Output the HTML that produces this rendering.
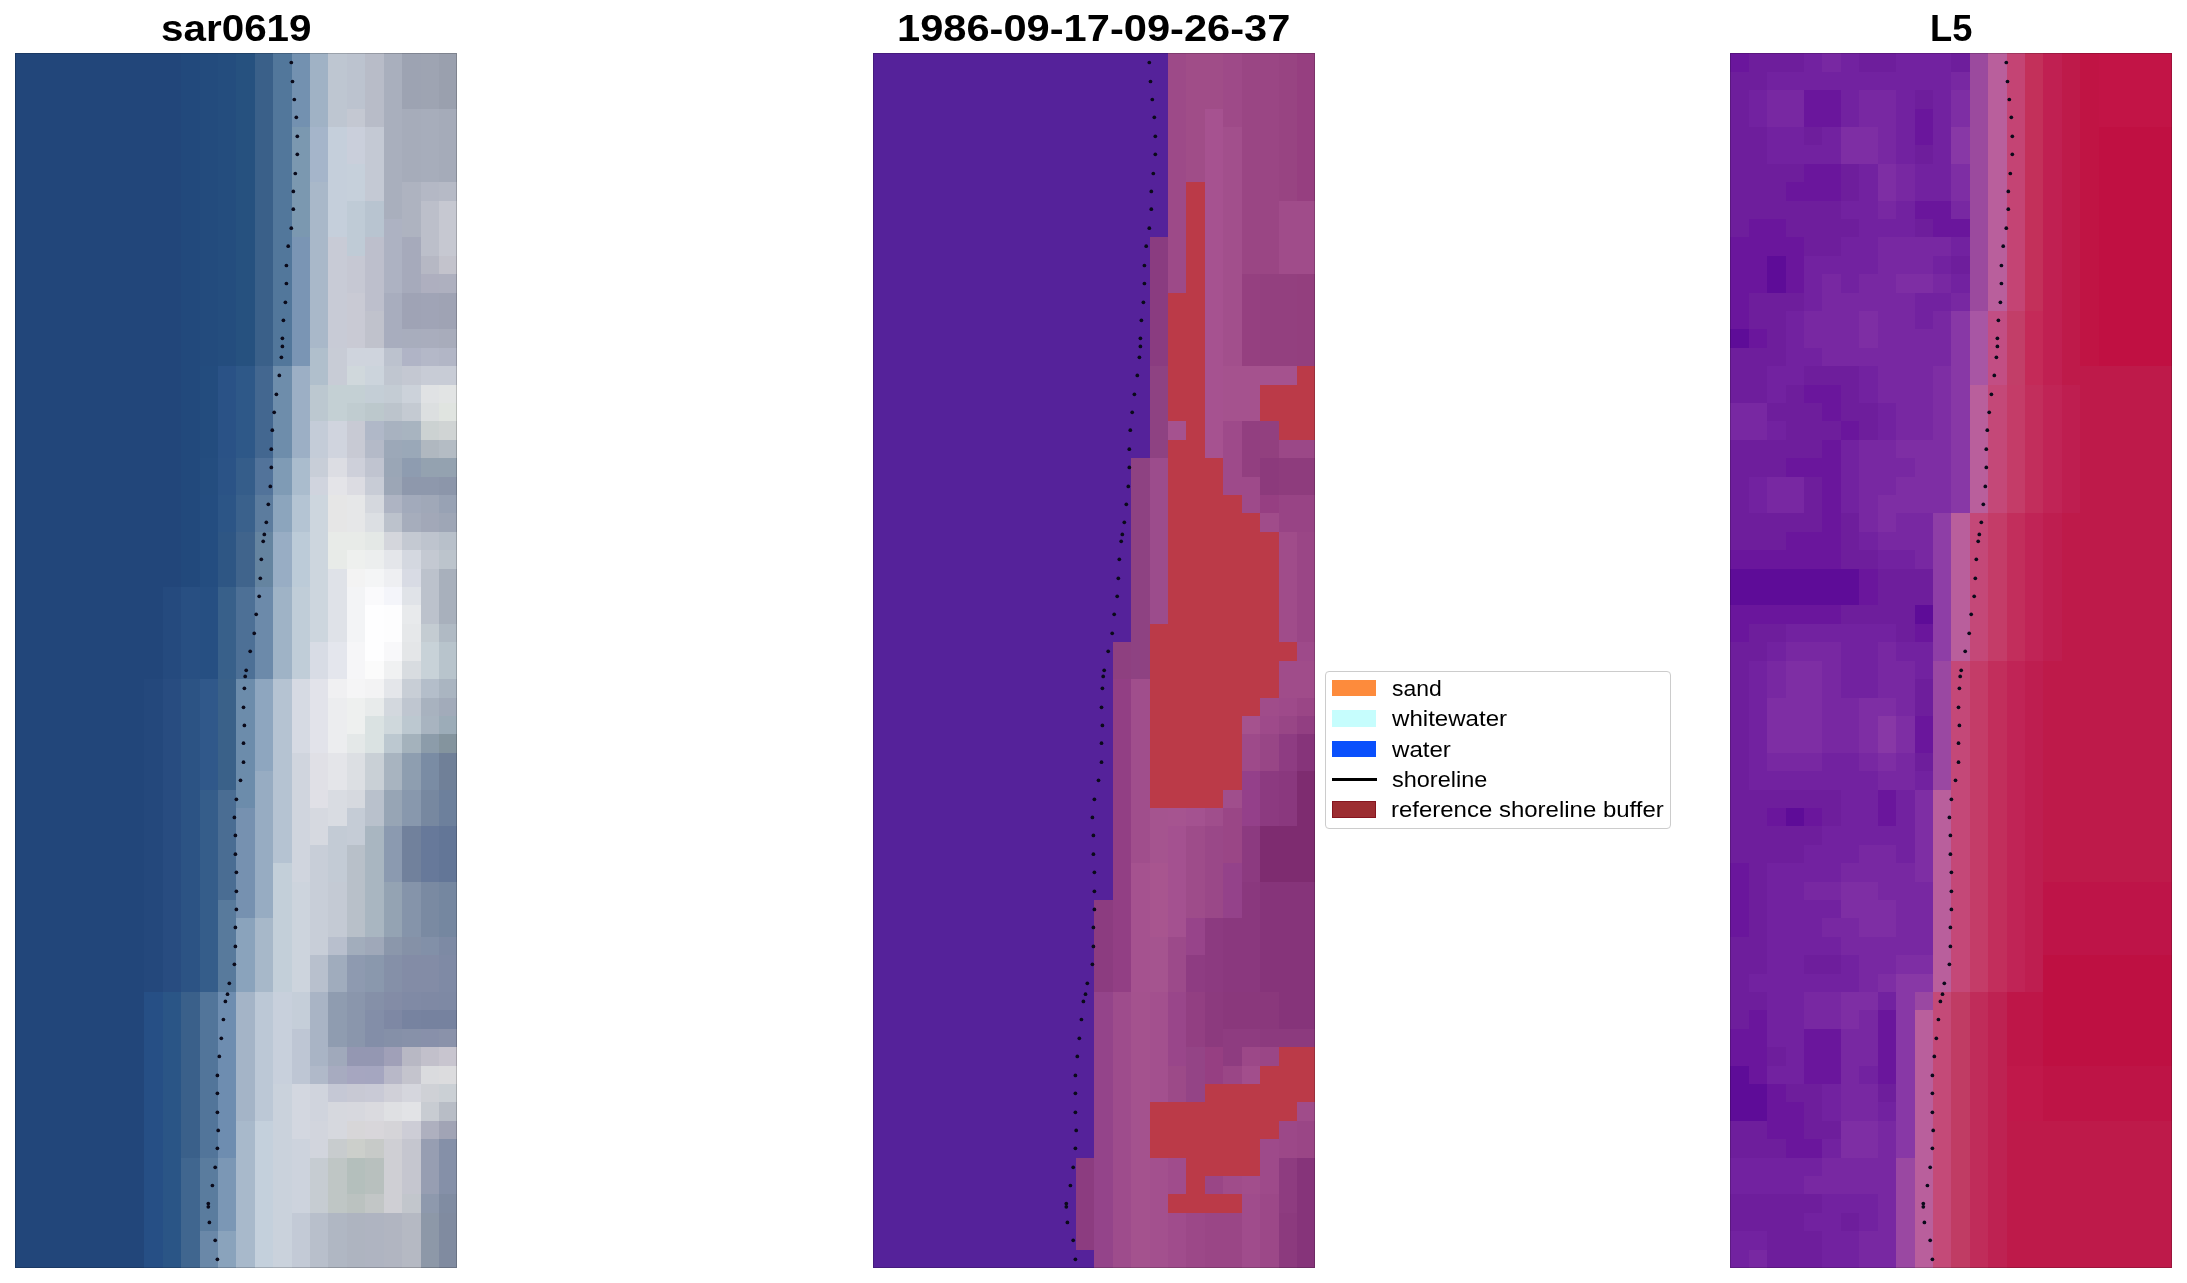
<!DOCTYPE html><html><head><meta charset="utf-8"><style>
html,body{margin:0;padding:0;background:#fff;width:2187px;height:1283px;overflow:hidden}
.t{position:absolute;font-family:"Liberation Sans",sans-serif;font-weight:bold;color:#000;white-space:nowrap;line-height:1}
.p{position:absolute;top:53px;width:442px;height:1214.6px}
.lg{position:absolute;font-family:"Liberation Sans",sans-serif;color:#000;white-space:nowrap;line-height:1}
</style></head><body>
<div style="position:absolute;left:15px;top:53px;width:442px;height:1214.6px;overflow:hidden"><svg style="position:absolute;left:-18.417px;top:-18.403px;width:478.833px;height:1251.406px;filter:blur(0.75px)" viewBox="-1 -1 26 68" preserveAspectRatio="none" shape-rendering="crispEdges"><rect x="-1" y="-1" width="26" height="68" fill="#22467a"/><rect x="9" y="-1" width="1" height="1" fill="#22497c"/><rect x="10" y="-1" width="1" height="1" fill="#234b7d"/><rect x="11" y="-1" width="1" height="1" fill="#244d7e"/><rect x="12" y="-1" width="1" height="1" fill="#26517f"/><rect x="13" y="-1" width="1" height="1" fill="#3a6089"/><rect x="14" y="-1" width="1" height="1" fill="#52779b"/><rect x="15" y="-1" width="1" height="1" fill="#7391b0"/><rect x="16" y="-1" width="1" height="1" fill="#a0b2c5"/><rect x="17" y="-1" width="1" height="1" fill="#bec6d1"/><rect x="18" y="-1" width="1" height="1" fill="#bcc3cf"/><rect x="19" y="-1" width="1" height="1" fill="#b8bcc8"/><rect x="20" y="-1" width="1" height="1" fill="#a9afbd"/><rect x="21" y="-1" width="1" height="1" fill="#9da3b2"/><rect x="22" y="-1" width="1" height="1" fill="#9ea4b2"/><rect x="23" y="-1" width="2" height="1" fill="#9aa0ae"/><rect x="9" y="0" width="1" height="1" fill="#22497c"/><rect x="10" y="0" width="1" height="1" fill="#234b7d"/><rect x="11" y="0" width="1" height="1" fill="#244d7e"/><rect x="12" y="0" width="1" height="1" fill="#26517f"/><rect x="13" y="0" width="1" height="1" fill="#3a6089"/><rect x="14" y="0" width="1" height="1" fill="#52779b"/><rect x="15" y="0" width="1" height="1" fill="#7391b0"/><rect x="16" y="0" width="1" height="1" fill="#a0b2c5"/><rect x="17" y="0" width="1" height="1" fill="#bec6d1"/><rect x="18" y="0" width="1" height="1" fill="#bcc3cf"/><rect x="19" y="0" width="1" height="1" fill="#b8bcc8"/><rect x="20" y="0" width="1" height="1" fill="#a9afbd"/><rect x="21" y="0" width="1" height="1" fill="#9da3b2"/><rect x="22" y="0" width="1" height="1" fill="#9ea4b2"/><rect x="23" y="0" width="2" height="1" fill="#9aa0ae"/><rect x="9" y="1" width="1" height="1" fill="#22497c"/><rect x="10" y="1" width="1" height="1" fill="#234b7d"/><rect x="11" y="1" width="1" height="1" fill="#244d7e"/><rect x="12" y="1" width="1" height="1" fill="#26517f"/><rect x="13" y="1" width="1" height="1" fill="#3a6089"/><rect x="14" y="1" width="1" height="1" fill="#52779b"/><rect x="15" y="1" width="1" height="1" fill="#7391b0"/><rect x="16" y="1" width="1" height="1" fill="#a0b2c5"/><rect x="17" y="1" width="1" height="1" fill="#bec6d1"/><rect x="18" y="1" width="1" height="1" fill="#bcc3cf"/><rect x="19" y="1" width="1" height="1" fill="#b8bcc8"/><rect x="20" y="1" width="1" height="1" fill="#a9afbd"/><rect x="21" y="1" width="1" height="1" fill="#9da3b2"/><rect x="22" y="1" width="1" height="1" fill="#9ea4b2"/><rect x="23" y="1" width="2" height="1" fill="#9aa0ae"/><rect x="9" y="2" width="1" height="1" fill="#22497c"/><rect x="10" y="2" width="1" height="1" fill="#234b7d"/><rect x="11" y="2" width="1" height="1" fill="#244d7e"/><rect x="12" y="2" width="1" height="1" fill="#26517f"/><rect x="13" y="2" width="1" height="1" fill="#3a6089"/><rect x="14" y="2" width="1" height="1" fill="#52779b"/><rect x="15" y="2" width="1" height="1" fill="#7391b0"/><rect x="16" y="2" width="1" height="1" fill="#a0b2c5"/><rect x="17" y="2" width="1" height="1" fill="#bec6d1"/><rect x="18" y="2" width="1" height="1" fill="#bcc3cf"/><rect x="19" y="2" width="1" height="1" fill="#b8bcc8"/><rect x="20" y="2" width="1" height="1" fill="#a9afbd"/><rect x="21" y="2" width="1" height="1" fill="#9da3b2"/><rect x="22" y="2" width="1" height="1" fill="#9ea4b2"/><rect x="23" y="2" width="2" height="1" fill="#9aa0ae"/><rect x="9" y="3" width="1" height="1" fill="#22497c"/><rect x="10" y="3" width="1" height="1" fill="#234b7d"/><rect x="11" y="3" width="1" height="1" fill="#244d7e"/><rect x="12" y="3" width="1" height="1" fill="#26517f"/><rect x="13" y="3" width="1" height="1" fill="#3a6089"/><rect x="14" y="3" width="1" height="1" fill="#52779b"/><rect x="15" y="3" width="1" height="1" fill="#7391b0"/><rect x="16" y="3" width="1" height="1" fill="#a0b2c5"/><rect x="17" y="3" width="1" height="1" fill="#bec6d1"/><rect x="18" y="3" width="1" height="1" fill="#c4c8d2"/><rect x="19" y="3" width="1" height="1" fill="#b8bcc8"/><rect x="20" y="3" width="1" height="1" fill="#a9afbd"/><rect x="21" y="3" width="1" height="1" fill="#a6acba"/><rect x="22" y="3" width="1" height="1" fill="#a7adbb"/><rect x="23" y="3" width="2" height="1" fill="#a5abb9"/><rect x="9" y="4" width="1" height="1" fill="#22497c"/><rect x="10" y="4" width="1" height="1" fill="#234b7d"/><rect x="11" y="4" width="1" height="1" fill="#244d7e"/><rect x="12" y="4" width="1" height="1" fill="#26517f"/><rect x="13" y="4" width="1" height="1" fill="#3a6089"/><rect x="14" y="4" width="1" height="1" fill="#52779b"/><rect x="15" y="4" width="1" height="1" fill="#7b98b0"/><rect x="16" y="4" width="1" height="1" fill="#a5b5ca"/><rect x="17" y="4" width="1" height="1" fill="#c5cfdb"/><rect x="18" y="4" width="1" height="1" fill="#cacfdb"/><rect x="19" y="4" width="1" height="1" fill="#c4c9d4"/><rect x="20" y="4" width="1" height="1" fill="#a9afbd"/><rect x="21" y="4" width="1" height="1" fill="#a6acba"/><rect x="22" y="4" width="1" height="1" fill="#a7adbb"/><rect x="23" y="4" width="2" height="1" fill="#a5abb9"/><rect x="9" y="5" width="1" height="1" fill="#22497c"/><rect x="10" y="5" width="1" height="1" fill="#234b7d"/><rect x="11" y="5" width="1" height="1" fill="#244d7e"/><rect x="12" y="5" width="1" height="1" fill="#26517f"/><rect x="13" y="5" width="1" height="1" fill="#3a6089"/><rect x="14" y="5" width="1" height="1" fill="#52779b"/><rect x="15" y="5" width="1" height="1" fill="#7b98b0"/><rect x="16" y="5" width="1" height="1" fill="#a5b5ca"/><rect x="17" y="5" width="1" height="1" fill="#c5cfdb"/><rect x="18" y="5" width="1" height="1" fill="#cacfdb"/><rect x="19" y="5" width="1" height="1" fill="#c4c9d4"/><rect x="20" y="5" width="1" height="1" fill="#a9afbd"/><rect x="21" y="5" width="1" height="1" fill="#a6acba"/><rect x="22" y="5" width="1" height="1" fill="#a7adbb"/><rect x="23" y="5" width="2" height="1" fill="#a5abb9"/><rect x="9" y="6" width="1" height="1" fill="#22497c"/><rect x="10" y="6" width="1" height="1" fill="#234b7d"/><rect x="11" y="6" width="1" height="1" fill="#244d7e"/><rect x="12" y="6" width="1" height="1" fill="#26517f"/><rect x="13" y="6" width="1" height="1" fill="#3a6089"/><rect x="14" y="6" width="1" height="1" fill="#52779b"/><rect x="15" y="6" width="1" height="1" fill="#7b98b0"/><rect x="16" y="6" width="1" height="1" fill="#a5b5ca"/><rect x="17" y="6" width="1" height="1" fill="#c5cfdb"/><rect x="18" y="6" width="1" height="1" fill="#c6d0db"/><rect x="19" y="6" width="1" height="1" fill="#c4c9d4"/><rect x="20" y="6" width="1" height="1" fill="#a9afbd"/><rect x="21" y="6" width="1" height="1" fill="#a6acba"/><rect x="22" y="6" width="1" height="1" fill="#a7adbb"/><rect x="23" y="6" width="2" height="1" fill="#a5abb9"/><rect x="9" y="7" width="1" height="1" fill="#22497c"/><rect x="10" y="7" width="1" height="1" fill="#234b7d"/><rect x="11" y="7" width="1" height="1" fill="#244d7e"/><rect x="12" y="7" width="1" height="1" fill="#26517f"/><rect x="13" y="7" width="1" height="1" fill="#3a6089"/><rect x="14" y="7" width="1" height="1" fill="#52779b"/><rect x="15" y="7" width="1" height="1" fill="#7b98b0"/><rect x="16" y="7" width="1" height="1" fill="#a9b8c9"/><rect x="17" y="7" width="1" height="1" fill="#c5cfdb"/><rect x="18" y="7" width="1" height="1" fill="#c6d0db"/><rect x="19" y="7" width="1" height="1" fill="#c4c9d4"/><rect x="20" y="7" width="1" height="1" fill="#a9afbd"/><rect x="21" y="7" width="1" height="1" fill="#aeb3c0"/><rect x="22" y="7" width="1" height="1" fill="#b4b8c5"/><rect x="23" y="7" width="2" height="1" fill="#b6bac6"/><rect x="9" y="8" width="1" height="1" fill="#22497c"/><rect x="10" y="8" width="1" height="1" fill="#234b7d"/><rect x="11" y="8" width="1" height="1" fill="#244d7e"/><rect x="12" y="8" width="1" height="1" fill="#26517f"/><rect x="13" y="8" width="1" height="1" fill="#3a6089"/><rect x="14" y="8" width="1" height="1" fill="#52779b"/><rect x="15" y="8" width="1" height="1" fill="#7b98b0"/><rect x="16" y="8" width="1" height="1" fill="#a9b8c9"/><rect x="17" y="8" width="1" height="1" fill="#c5cfdb"/><rect x="18" y="8" width="1" height="1" fill="#bfcbd6"/><rect x="19" y="8" width="1" height="1" fill="#b8c4d0"/><rect x="20" y="8" width="1" height="1" fill="#a9afbd"/><rect x="21" y="8" width="1" height="1" fill="#aeb3c0"/><rect x="22" y="8" width="1" height="1" fill="#bcbfca"/><rect x="23" y="8" width="2" height="1" fill="#c6c8d1"/><rect x="9" y="9" width="1" height="1" fill="#22497c"/><rect x="10" y="9" width="1" height="1" fill="#234b7d"/><rect x="11" y="9" width="1" height="1" fill="#244d7e"/><rect x="12" y="9" width="1" height="1" fill="#26517f"/><rect x="13" y="9" width="1" height="1" fill="#3a6089"/><rect x="14" y="9" width="1" height="1" fill="#52779b"/><rect x="15" y="9" width="1" height="1" fill="#7b98b0"/><rect x="16" y="9" width="1" height="1" fill="#a9b8c9"/><rect x="17" y="9" width="1" height="1" fill="#c5cfdb"/><rect x="18" y="9" width="1" height="1" fill="#bfcbd6"/><rect x="19" y="9" width="1" height="1" fill="#b8c4d0"/><rect x="20" y="9" width="1" height="1" fill="#adb2c2"/><rect x="21" y="9" width="1" height="1" fill="#aeb3c0"/><rect x="22" y="9" width="1" height="1" fill="#bcbfca"/><rect x="23" y="9" width="2" height="1" fill="#c6c8d1"/><rect x="9" y="10" width="1" height="1" fill="#22497c"/><rect x="10" y="10" width="1" height="1" fill="#234b7d"/><rect x="11" y="10" width="1" height="1" fill="#244d7e"/><rect x="12" y="10" width="1" height="1" fill="#26517f"/><rect x="13" y="10" width="1" height="1" fill="#3a6089"/><rect x="14" y="10" width="1" height="1" fill="#52779b"/><rect x="15" y="10" width="1" height="1" fill="#7a95b4"/><rect x="16" y="10" width="1" height="1" fill="#a9b8c9"/><rect x="17" y="10" width="1" height="1" fill="#c8cbd6"/><rect x="18" y="10" width="1" height="1" fill="#bfcbd6"/><rect x="19" y="10" width="1" height="1" fill="#bdbfcc"/><rect x="20" y="10" width="1" height="1" fill="#adb2c2"/><rect x="21" y="10" width="1" height="1" fill="#a6aabb"/><rect x="22" y="10" width="1" height="1" fill="#bcbfca"/><rect x="23" y="10" width="2" height="1" fill="#c6c8d1"/><rect x="9" y="11" width="1" height="1" fill="#22497c"/><rect x="10" y="11" width="1" height="1" fill="#234b7d"/><rect x="11" y="11" width="1" height="1" fill="#244d7e"/><rect x="12" y="11" width="1" height="1" fill="#26517f"/><rect x="13" y="11" width="1" height="1" fill="#3a6089"/><rect x="14" y="11" width="1" height="1" fill="#52779b"/><rect x="15" y="11" width="1" height="1" fill="#7a95b4"/><rect x="16" y="11" width="1" height="1" fill="#a9b8c9"/><rect x="17" y="11" width="1" height="1" fill="#c8cbd6"/><rect x="18" y="11" width="1" height="1" fill="#c6c8d3"/><rect x="19" y="11" width="1" height="1" fill="#bdbfcc"/><rect x="20" y="11" width="1" height="1" fill="#adb2c2"/><rect x="21" y="11" width="1" height="1" fill="#a6aabb"/><rect x="22" y="11" width="1" height="1" fill="#b6b8c4"/><rect x="23" y="11" width="2" height="1" fill="#c3c3cc"/><rect x="9" y="12" width="1" height="1" fill="#22497c"/><rect x="10" y="12" width="1" height="1" fill="#234b7d"/><rect x="11" y="12" width="1" height="1" fill="#244d7e"/><rect x="12" y="12" width="1" height="1" fill="#26517f"/><rect x="13" y="12" width="1" height="1" fill="#3a6089"/><rect x="14" y="12" width="1" height="1" fill="#52779b"/><rect x="15" y="12" width="1" height="1" fill="#7a95b4"/><rect x="16" y="12" width="1" height="1" fill="#a9b8c9"/><rect x="17" y="12" width="1" height="1" fill="#c8cbd6"/><rect x="18" y="12" width="1" height="1" fill="#c6c8d3"/><rect x="19" y="12" width="1" height="1" fill="#bdbfcc"/><rect x="20" y="12" width="1" height="1" fill="#adb2c2"/><rect x="21" y="12" width="1" height="1" fill="#a6aabb"/><rect x="22" y="12" width="1" height="1" fill="#aeafbf"/><rect x="23" y="12" width="2" height="1" fill="#aeb0bf"/><rect x="9" y="13" width="1" height="1" fill="#22497c"/><rect x="10" y="13" width="1" height="1" fill="#234b7d"/><rect x="11" y="13" width="1" height="1" fill="#244d7e"/><rect x="12" y="13" width="1" height="1" fill="#26517f"/><rect x="13" y="13" width="1" height="1" fill="#3a6089"/><rect x="14" y="13" width="1" height="1" fill="#52779b"/><rect x="15" y="13" width="1" height="1" fill="#7a95b4"/><rect x="16" y="13" width="1" height="1" fill="#a9b8c9"/><rect x="17" y="13" width="1" height="1" fill="#c8cbd6"/><rect x="18" y="13" width="1" height="1" fill="#c9cad4"/><rect x="19" y="13" width="1" height="1" fill="#bdbfcc"/><rect x="20" y="13" width="1" height="1" fill="#a8adbe"/><rect x="21" y="13" width="1" height="1" fill="#9fa3b5"/><rect x="22" y="13" width="1" height="1" fill="#a0a4b6"/><rect x="23" y="13" width="2" height="1" fill="#9fa3b4"/><rect x="9" y="14" width="1" height="1" fill="#22497c"/><rect x="10" y="14" width="1" height="1" fill="#234b7d"/><rect x="11" y="14" width="1" height="1" fill="#244d7e"/><rect x="12" y="14" width="1" height="1" fill="#26517f"/><rect x="13" y="14" width="1" height="1" fill="#3a6089"/><rect x="14" y="14" width="1" height="1" fill="#52779b"/><rect x="15" y="14" width="1" height="1" fill="#7a95b4"/><rect x="16" y="14" width="1" height="1" fill="#a9b8c9"/><rect x="17" y="14" width="1" height="1" fill="#c8cbd6"/><rect x="18" y="14" width="1" height="1" fill="#c9cad4"/><rect x="19" y="14" width="1" height="1" fill="#c0c2cc"/><rect x="20" y="14" width="1" height="1" fill="#a8adbe"/><rect x="21" y="14" width="1" height="1" fill="#9fa3b5"/><rect x="22" y="14" width="1" height="1" fill="#a0a4b6"/><rect x="23" y="14" width="2" height="1" fill="#9fa3b4"/><rect x="9" y="15" width="1" height="1" fill="#22497c"/><rect x="10" y="15" width="1" height="1" fill="#234b7d"/><rect x="11" y="15" width="1" height="1" fill="#244d7e"/><rect x="12" y="15" width="1" height="1" fill="#26517f"/><rect x="13" y="15" width="1" height="1" fill="#3a6089"/><rect x="14" y="15" width="1" height="1" fill="#52779b"/><rect x="15" y="15" width="1" height="1" fill="#7a95b4"/><rect x="16" y="15" width="1" height="1" fill="#a9b8c9"/><rect x="17" y="15" width="1" height="1" fill="#c8cbd6"/><rect x="18" y="15" width="1" height="1" fill="#c9cad4"/><rect x="19" y="15" width="1" height="1" fill="#c0c2cc"/><rect x="20" y="15" width="1" height="1" fill="#a8adbe"/><rect x="21" y="15" width="1" height="1" fill="#a8adbd"/><rect x="22" y="15" width="1" height="1" fill="#a9adbd"/><rect x="23" y="15" width="2" height="1" fill="#a8acbb"/><rect x="9" y="16" width="1" height="1" fill="#22497c"/><rect x="10" y="16" width="1" height="1" fill="#234b7d"/><rect x="11" y="16" width="1" height="1" fill="#244d7e"/><rect x="12" y="16" width="1" height="1" fill="#26517f"/><rect x="13" y="16" width="1" height="1" fill="#3a6089"/><rect x="14" y="16" width="1" height="1" fill="#52779b"/><rect x="15" y="16" width="1" height="1" fill="#7a95b4"/><rect x="16" y="16" width="1" height="1" fill="#b0bfcc"/><rect x="17" y="16" width="1" height="1" fill="#c8ccd6"/><rect x="18" y="16" width="2" height="1" fill="#cfd4dd"/><rect x="20" y="16" width="1" height="1" fill="#bcc2ce"/><rect x="21" y="16" width="1" height="1" fill="#b0b4c6"/><rect x="22" y="16" width="1" height="1" fill="#b4b8c8"/><rect x="23" y="16" width="2" height="1" fill="#b2b6c6"/><rect x="9" y="17" width="1" height="1" fill="#22497c"/><rect x="10" y="17" width="1" height="1" fill="#234c7e"/><rect x="11" y="17" width="1" height="1" fill="#2a5286"/><rect x="12" y="17" width="1" height="1" fill="#2e5888"/><rect x="13" y="17" width="1" height="1" fill="#436790"/><rect x="14" y="17" width="1" height="1" fill="#6e8dab"/><rect x="15" y="17" width="1" height="1" fill="#9cafc5"/><rect x="16" y="17" width="1" height="1" fill="#b0bfcc"/><rect x="17" y="17" width="1" height="1" fill="#c8ccd6"/><rect x="18" y="17" width="1" height="1" fill="#d0d8dc"/><rect x="19" y="17" width="1" height="1" fill="#ccd4dc"/><rect x="20" y="17" width="1" height="1" fill="#c0c6d0"/><rect x="21" y="17" width="1" height="1" fill="#c4c8d2"/><rect x="22" y="17" width="3" height="1" fill="#c8ccd6"/><rect x="9" y="18" width="1" height="1" fill="#22497c"/><rect x="10" y="18" width="1" height="1" fill="#234c7e"/><rect x="11" y="18" width="1" height="1" fill="#2a5286"/><rect x="12" y="18" width="1" height="1" fill="#2e5888"/><rect x="13" y="18" width="1" height="1" fill="#436790"/><rect x="14" y="18" width="1" height="1" fill="#6e8dab"/><rect x="15" y="18" width="1" height="1" fill="#9cafc5"/><rect x="16" y="18" width="1" height="1" fill="#bcc8d0"/><rect x="17" y="18" width="2" height="1" fill="#c4d0d4"/><rect x="19" y="18" width="1" height="1" fill="#c4ced6"/><rect x="20" y="18" width="1" height="1" fill="#c4ccd4"/><rect x="21" y="18" width="1" height="1" fill="#ccd2da"/><rect x="22" y="18" width="1" height="1" fill="#e0e2e4"/><rect x="23" y="18" width="2" height="1" fill="#e2e4e4"/><rect x="9" y="19" width="1" height="1" fill="#22497c"/><rect x="10" y="19" width="1" height="1" fill="#234c7e"/><rect x="11" y="19" width="1" height="1" fill="#2a5286"/><rect x="12" y="19" width="1" height="1" fill="#2e5888"/><rect x="13" y="19" width="1" height="1" fill="#436790"/><rect x="14" y="19" width="1" height="1" fill="#6e8dab"/><rect x="15" y="19" width="1" height="1" fill="#9cafc5"/><rect x="16" y="19" width="1" height="1" fill="#bcc8d0"/><rect x="17" y="19" width="1" height="1" fill="#c4d0d4"/><rect x="18" y="19" width="1" height="1" fill="#c0ccd0"/><rect x="19" y="19" width="1" height="1" fill="#bcc8cc"/><rect x="20" y="19" width="1" height="1" fill="#bcc4cc"/><rect x="21" y="19" width="1" height="1" fill="#c4cad2"/><rect x="22" y="19" width="1" height="1" fill="#dcdfe0"/><rect x="23" y="19" width="2" height="1" fill="#e0e4e0"/><rect x="9" y="20" width="1" height="1" fill="#22497c"/><rect x="10" y="20" width="1" height="1" fill="#234c7e"/><rect x="11" y="20" width="1" height="1" fill="#2a5286"/><rect x="12" y="20" width="1" height="1" fill="#2e5888"/><rect x="13" y="20" width="1" height="1" fill="#436790"/><rect x="14" y="20" width="1" height="1" fill="#6e8dab"/><rect x="15" y="20" width="1" height="1" fill="#9cafc5"/><rect x="16" y="20" width="1" height="1" fill="#c4ccd8"/><rect x="17" y="20" width="1" height="1" fill="#d0d4de"/><rect x="18" y="20" width="1" height="1" fill="#c8cad4"/><rect x="19" y="20" width="1" height="1" fill="#b0b8c8"/><rect x="20" y="20" width="1" height="1" fill="#a8b2c0"/><rect x="21" y="20" width="1" height="1" fill="#a8b4c0"/><rect x="22" y="20" width="1" height="1" fill="#ccd2d2"/><rect x="23" y="20" width="2" height="1" fill="#d0d4d4"/><rect x="9" y="21" width="1" height="1" fill="#22497c"/><rect x="10" y="21" width="1" height="1" fill="#234c7e"/><rect x="11" y="21" width="1" height="1" fill="#2a5286"/><rect x="12" y="21" width="1" height="1" fill="#2e5888"/><rect x="13" y="21" width="1" height="1" fill="#436790"/><rect x="14" y="21" width="1" height="1" fill="#6e8dab"/><rect x="15" y="21" width="1" height="1" fill="#9cafc5"/><rect x="16" y="21" width="1" height="1" fill="#c4ccd8"/><rect x="17" y="21" width="1" height="1" fill="#d0d4de"/><rect x="18" y="21" width="1" height="1" fill="#c8cad4"/><rect x="19" y="21" width="1" height="1" fill="#b4bac8"/><rect x="20" y="21" width="1" height="1" fill="#9ca8b8"/><rect x="21" y="21" width="1" height="1" fill="#9aa8b8"/><rect x="22" y="21" width="1" height="1" fill="#b0b8c0"/><rect x="23" y="21" width="2" height="1" fill="#b4bcc4"/><rect x="9" y="22" width="1" height="1" fill="#22497c"/><rect x="10" y="22" width="1" height="1" fill="#244d7f"/><rect x="11" y="22" width="1" height="1" fill="#2b5386"/><rect x="12" y="22" width="1" height="1" fill="#355d8a"/><rect x="13" y="22" width="1" height="1" fill="#52739a"/><rect x="14" y="22" width="1" height="1" fill="#7f9bb5"/><rect x="15" y="22" width="1" height="1" fill="#aabccd"/><rect x="16" y="22" width="1" height="1" fill="#c8ced8"/><rect x="17" y="22" width="1" height="1" fill="#dcdde3"/><rect x="18" y="22" width="1" height="1" fill="#ced0da"/><rect x="19" y="22" width="1" height="1" fill="#c0c4d0"/><rect x="20" y="22" width="1" height="1" fill="#9aa6b6"/><rect x="21" y="22" width="1" height="1" fill="#8e9cb0"/><rect x="22" y="22" width="3" height="1" fill="#94a2b0"/><rect x="9" y="23" width="1" height="1" fill="#22497c"/><rect x="10" y="23" width="1" height="1" fill="#244d7f"/><rect x="11" y="23" width="1" height="1" fill="#2b5386"/><rect x="12" y="23" width="1" height="1" fill="#355d8a"/><rect x="13" y="23" width="1" height="1" fill="#52739a"/><rect x="14" y="23" width="1" height="1" fill="#7f9bb5"/><rect x="15" y="23" width="1" height="1" fill="#aabccd"/><rect x="16" y="23" width="1" height="1" fill="#d0d4de"/><rect x="17" y="23" width="1" height="1" fill="#e4e4e8"/><rect x="18" y="23" width="1" height="1" fill="#dcdce2"/><rect x="19" y="23" width="1" height="1" fill="#c8ccd6"/><rect x="20" y="23" width="1" height="1" fill="#9ca6b6"/><rect x="21" y="23" width="2" height="1" fill="#8e98ac"/><rect x="23" y="23" width="2" height="1" fill="#8c96aa"/><rect x="9" y="24" width="1" height="1" fill="#22497c"/><rect x="10" y="24" width="1" height="1" fill="#244d80"/><rect x="11" y="24" width="1" height="1" fill="#2c5586"/><rect x="12" y="24" width="1" height="1" fill="#3a618c"/><rect x="13" y="24" width="1" height="1" fill="#5c7c9e"/><rect x="14" y="24" width="1" height="1" fill="#8ca5bd"/><rect x="15" y="24" width="1" height="1" fill="#b4c4d3"/><rect x="16" y="24" width="1" height="1" fill="#cdd6de"/><rect x="17" y="24" width="1" height="1" fill="#e6e6e6"/><rect x="18" y="24" width="1" height="1" fill="#e6e7e8"/><rect x="19" y="24" width="1" height="1" fill="#d5d8de"/><rect x="20" y="24" width="1" height="1" fill="#aeb4c3"/><rect x="21" y="24" width="1" height="1" fill="#a2aabb"/><rect x="22" y="24" width="1" height="1" fill="#a0a8b8"/><rect x="23" y="24" width="2" height="1" fill="#98a2b4"/><rect x="9" y="25" width="1" height="1" fill="#22497c"/><rect x="10" y="25" width="1" height="1" fill="#244d80"/><rect x="11" y="25" width="1" height="1" fill="#2c5586"/><rect x="12" y="25" width="1" height="1" fill="#3a618c"/><rect x="13" y="25" width="1" height="1" fill="#5c7c9e"/><rect x="14" y="25" width="1" height="1" fill="#8ca5bd"/><rect x="15" y="25" width="1" height="1" fill="#b4c4d3"/><rect x="16" y="25" width="1" height="1" fill="#cdd6de"/><rect x="17" y="25" width="1" height="1" fill="#e6e6e6"/><rect x="18" y="25" width="1" height="1" fill="#e6e7e8"/><rect x="19" y="25" width="1" height="1" fill="#dcdfe3"/><rect x="20" y="25" width="1" height="1" fill="#bcc2cc"/><rect x="21" y="25" width="1" height="1" fill="#a6adbc"/><rect x="22" y="25" width="1" height="1" fill="#a2a8b8"/><rect x="23" y="25" width="2" height="1" fill="#9ea6b6"/><rect x="9" y="26" width="1" height="1" fill="#22497c"/><rect x="10" y="26" width="1" height="1" fill="#244d80"/><rect x="11" y="26" width="1" height="1" fill="#2e5684"/><rect x="12" y="26" width="1" height="1" fill="#40648c"/><rect x="13" y="26" width="1" height="1" fill="#6584a0"/><rect x="14" y="26" width="1" height="1" fill="#98adc4"/><rect x="15" y="26" width="1" height="1" fill="#bccbd8"/><rect x="16" y="26" width="1" height="1" fill="#cdd6de"/><rect x="17" y="26" width="2" height="1" fill="#e8ebe8"/><rect x="19" y="26" width="1" height="1" fill="#e4e8e6"/><rect x="20" y="26" width="1" height="1" fill="#d4d6dc"/><rect x="21" y="26" width="1" height="1" fill="#c4c9d2"/><rect x="22" y="26" width="1" height="1" fill="#bec4ce"/><rect x="23" y="26" width="2" height="1" fill="#b8c0ca"/><rect x="9" y="27" width="1" height="1" fill="#22497c"/><rect x="10" y="27" width="1" height="1" fill="#244d80"/><rect x="11" y="27" width="1" height="1" fill="#2e5684"/><rect x="12" y="27" width="1" height="1" fill="#40648c"/><rect x="13" y="27" width="1" height="1" fill="#6584a0"/><rect x="14" y="27" width="1" height="1" fill="#98adc4"/><rect x="15" y="27" width="1" height="1" fill="#bccbd8"/><rect x="16" y="27" width="1" height="1" fill="#cdd6de"/><rect x="17" y="27" width="1" height="1" fill="#e8ebe8"/><rect x="18" y="27" width="1" height="1" fill="#eef0ee"/><rect x="19" y="27" width="1" height="1" fill="#eceeee"/><rect x="20" y="27" width="1" height="1" fill="#e4e6ea"/><rect x="21" y="27" width="1" height="1" fill="#d4d8e0"/><rect x="22" y="27" width="1" height="1" fill="#c4c9d2"/><rect x="23" y="27" width="2" height="1" fill="#bcc4cc"/><rect x="9" y="28" width="1" height="1" fill="#22497c"/><rect x="10" y="28" width="1" height="1" fill="#244d80"/><rect x="11" y="28" width="1" height="1" fill="#2e5684"/><rect x="12" y="28" width="1" height="1" fill="#40648c"/><rect x="13" y="28" width="1" height="1" fill="#6584a0"/><rect x="14" y="28" width="1" height="1" fill="#98adc4"/><rect x="15" y="28" width="1" height="1" fill="#bccbd8"/><rect x="16" y="28" width="1" height="1" fill="#cdd6de"/><rect x="17" y="28" width="1" height="1" fill="#dfe2e8"/><rect x="18" y="28" width="1" height="1" fill="#f3f3f3"/><rect x="19" y="28" width="1" height="1" fill="#f4f5f6"/><rect x="20" y="28" width="1" height="1" fill="#eeeff2"/><rect x="21" y="28" width="1" height="1" fill="#d8dbe4"/><rect x="22" y="28" width="1" height="1" fill="#bcc2cc"/><rect x="23" y="28" width="2" height="1" fill="#a8b0bc"/><rect x="8" y="29" width="1" height="1" fill="#254a7e"/><rect x="9" y="29" width="1" height="1" fill="#284f82"/><rect x="10" y="29" width="1" height="1" fill="#264f82"/><rect x="11" y="29" width="1" height="1" fill="#38608a"/><rect x="12" y="29" width="1" height="1" fill="#4d7096"/><rect x="13" y="29" width="1" height="1" fill="#6c8aaa"/><rect x="14" y="29" width="1" height="1" fill="#9fb3c6"/><rect x="15" y="29" width="1" height="1" fill="#c0cdd8"/><rect x="16" y="29" width="1" height="1" fill="#cdd6de"/><rect x="17" y="29" width="1" height="1" fill="#dfe2e8"/><rect x="18" y="29" width="1" height="1" fill="#f3f4f6"/><rect x="19" y="29" width="1" height="1" fill="#fafafc"/><rect x="20" y="29" width="1" height="1" fill="#f4f5fa"/><rect x="21" y="29" width="1" height="1" fill="#e0e3e8"/><rect x="22" y="29" width="1" height="1" fill="#bcc2cc"/><rect x="23" y="29" width="2" height="1" fill="#a8b0bc"/><rect x="8" y="30" width="1" height="1" fill="#254a7e"/><rect x="9" y="30" width="1" height="1" fill="#284f82"/><rect x="10" y="30" width="1" height="1" fill="#264f82"/><rect x="11" y="30" width="1" height="1" fill="#38608a"/><rect x="12" y="30" width="1" height="1" fill="#4d7096"/><rect x="13" y="30" width="1" height="1" fill="#6c8aaa"/><rect x="14" y="30" width="1" height="1" fill="#9fb3c6"/><rect x="15" y="30" width="1" height="1" fill="#c0cdd8"/><rect x="16" y="30" width="1" height="1" fill="#cdd6de"/><rect x="17" y="30" width="1" height="1" fill="#dfe2e8"/><rect x="18" y="30" width="1" height="1" fill="#f3f4f6"/><rect x="19" y="30" width="1" height="1" fill="#fefeff"/><rect x="20" y="30" width="1" height="1" fill="#fdfdfe"/><rect x="21" y="30" width="1" height="1" fill="#e8eaec"/><rect x="22" y="30" width="1" height="1" fill="#bcc2cc"/><rect x="23" y="30" width="2" height="1" fill="#a8b0bc"/><rect x="8" y="31" width="1" height="1" fill="#254a7e"/><rect x="9" y="31" width="1" height="1" fill="#284f82"/><rect x="10" y="31" width="1" height="1" fill="#264f82"/><rect x="11" y="31" width="1" height="1" fill="#38608a"/><rect x="12" y="31" width="1" height="1" fill="#4d7096"/><rect x="13" y="31" width="1" height="1" fill="#6c8aaa"/><rect x="14" y="31" width="1" height="1" fill="#9fb3c6"/><rect x="15" y="31" width="1" height="1" fill="#c0cdd8"/><rect x="16" y="31" width="1" height="1" fill="#cdd6de"/><rect x="17" y="31" width="1" height="1" fill="#dfe2e8"/><rect x="18" y="31" width="1" height="1" fill="#f3f4f6"/><rect x="19" y="31" width="1" height="1" fill="#fefeff"/><rect x="20" y="31" width="1" height="1" fill="#fdfdfe"/><rect x="21" y="31" width="1" height="1" fill="#e6e8ea"/><rect x="22" y="31" width="1" height="1" fill="#c4ccd2"/><rect x="23" y="31" width="2" height="1" fill="#b0bac4"/><rect x="8" y="32" width="1" height="1" fill="#254a7e"/><rect x="9" y="32" width="1" height="1" fill="#284f82"/><rect x="10" y="32" width="1" height="1" fill="#264f82"/><rect x="11" y="32" width="1" height="1" fill="#38608a"/><rect x="12" y="32" width="1" height="1" fill="#4d7096"/><rect x="13" y="32" width="1" height="1" fill="#6c8aaa"/><rect x="14" y="32" width="1" height="1" fill="#9fb3c6"/><rect x="15" y="32" width="1" height="1" fill="#c0cdd8"/><rect x="16" y="32" width="1" height="1" fill="#d8dce5"/><rect x="17" y="32" width="1" height="1" fill="#e4e6ed"/><rect x="18" y="32" width="1" height="1" fill="#f6f6f8"/><rect x="19" y="32" width="1" height="1" fill="#fefeff"/><rect x="20" y="32" width="1" height="1" fill="#f8f8fa"/><rect x="21" y="32" width="1" height="1" fill="#e4e6e8"/><rect x="22" y="32" width="1" height="1" fill="#c8d2d8"/><rect x="23" y="32" width="2" height="1" fill="#b8c4cc"/><rect x="8" y="33" width="1" height="1" fill="#254a7e"/><rect x="9" y="33" width="1" height="1" fill="#284f82"/><rect x="10" y="33" width="1" height="1" fill="#264f82"/><rect x="11" y="33" width="1" height="1" fill="#38608a"/><rect x="12" y="33" width="1" height="1" fill="#4d7096"/><rect x="13" y="33" width="1" height="1" fill="#6c8aaa"/><rect x="14" y="33" width="1" height="1" fill="#9fb3c6"/><rect x="15" y="33" width="1" height="1" fill="#c0cdd8"/><rect x="16" y="33" width="1" height="1" fill="#d8dce5"/><rect x="17" y="33" width="1" height="1" fill="#e4e6ed"/><rect x="18" y="33" width="1" height="1" fill="#f6f6f8"/><rect x="19" y="33" width="1" height="1" fill="#fbfbfb"/><rect x="20" y="33" width="1" height="1" fill="#f0f1f2"/><rect x="21" y="33" width="1" height="1" fill="#d8dce0"/><rect x="22" y="33" width="1" height="1" fill="#c8d2d8"/><rect x="23" y="33" width="2" height="1" fill="#b8c4cc"/><rect x="7" y="34" width="1" height="1" fill="#24487c"/><rect x="8" y="34" width="1" height="1" fill="#284c80"/><rect x="9" y="34" width="1" height="1" fill="#2c5384"/><rect x="10" y="34" width="1" height="1" fill="#30588a"/><rect x="11" y="34" width="1" height="1" fill="#3a6189"/><rect x="12" y="34" width="1" height="1" fill="#6c8cab"/><rect x="13" y="34" width="1" height="1" fill="#8ea6bf"/><rect x="14" y="34" width="1" height="1" fill="#b5c3d2"/><rect x="15" y="34" width="1" height="1" fill="#d6dae3"/><rect x="16" y="34" width="1" height="1" fill="#e2e3ea"/><rect x="17" y="34" width="1" height="1" fill="#f0f0f2"/><rect x="18" y="34" width="1" height="1" fill="#f5f5f6"/><rect x="19" y="34" width="1" height="1" fill="#f3f3f4"/><rect x="20" y="34" width="1" height="1" fill="#e4e6ea"/><rect x="21" y="34" width="1" height="1" fill="#c8ced6"/><rect x="22" y="34" width="1" height="1" fill="#b4beca"/><rect x="23" y="34" width="2" height="1" fill="#aab5c1"/><rect x="7" y="35" width="1" height="1" fill="#24487c"/><rect x="8" y="35" width="1" height="1" fill="#284c80"/><rect x="9" y="35" width="1" height="1" fill="#2c5384"/><rect x="10" y="35" width="1" height="1" fill="#30588a"/><rect x="11" y="35" width="1" height="1" fill="#3a6189"/><rect x="12" y="35" width="1" height="1" fill="#6c8cab"/><rect x="13" y="35" width="1" height="1" fill="#8ea6bf"/><rect x="14" y="35" width="1" height="1" fill="#b5c3d2"/><rect x="15" y="35" width="1" height="1" fill="#d6dae3"/><rect x="16" y="35" width="1" height="1" fill="#e2e3ea"/><rect x="17" y="35" width="1" height="1" fill="#ecedef"/><rect x="18" y="35" width="1" height="1" fill="#eef0ef"/><rect x="19" y="35" width="1" height="1" fill="#e8ebeb"/><rect x="20" y="35" width="1" height="1" fill="#d3d8de"/><rect x="21" y="35" width="1" height="1" fill="#bfc6d0"/><rect x="22" y="35" width="1" height="1" fill="#a8b2bf"/><rect x="23" y="35" width="2" height="1" fill="#a2abba"/><rect x="7" y="36" width="1" height="1" fill="#24487c"/><rect x="8" y="36" width="1" height="1" fill="#284c80"/><rect x="9" y="36" width="1" height="1" fill="#2c5384"/><rect x="10" y="36" width="1" height="1" fill="#30588a"/><rect x="11" y="36" width="1" height="1" fill="#3a6189"/><rect x="12" y="36" width="1" height="1" fill="#6c8cab"/><rect x="13" y="36" width="1" height="1" fill="#8ea6bf"/><rect x="14" y="36" width="1" height="1" fill="#b5c3d2"/><rect x="15" y="36" width="1" height="1" fill="#d6dae3"/><rect x="16" y="36" width="1" height="1" fill="#e2e3ea"/><rect x="17" y="36" width="1" height="1" fill="#ecedef"/><rect x="18" y="36" width="1" height="1" fill="#eef0ef"/><rect x="19" y="36" width="1" height="1" fill="#dae2e2"/><rect x="20" y="36" width="1" height="1" fill="#cfd8dc"/><rect x="21" y="36" width="1" height="1" fill="#bcc8d0"/><rect x="22" y="36" width="1" height="1" fill="#a8b4c0"/><rect x="23" y="36" width="2" height="1" fill="#9cacb8"/><rect x="7" y="37" width="1" height="1" fill="#24487c"/><rect x="8" y="37" width="1" height="1" fill="#284c80"/><rect x="9" y="37" width="1" height="1" fill="#2c5384"/><rect x="10" y="37" width="1" height="1" fill="#30588a"/><rect x="11" y="37" width="1" height="1" fill="#3a6189"/><rect x="12" y="37" width="1" height="1" fill="#6c8cab"/><rect x="13" y="37" width="1" height="1" fill="#8ea6bf"/><rect x="14" y="37" width="1" height="1" fill="#b5c3d2"/><rect x="15" y="37" width="1" height="1" fill="#d6dae3"/><rect x="16" y="37" width="1" height="1" fill="#e2e3ea"/><rect x="17" y="37" width="1" height="1" fill="#ecedef"/><rect x="18" y="37" width="1" height="1" fill="#e4e8e8"/><rect x="19" y="37" width="1" height="1" fill="#dae2e2"/><rect x="20" y="37" width="1" height="1" fill="#bcc8d0"/><rect x="21" y="37" width="1" height="1" fill="#a4b2bc"/><rect x="22" y="37" width="1" height="1" fill="#8c9caa"/><rect x="23" y="37" width="2" height="1" fill="#84949e"/><rect x="7" y="38" width="1" height="1" fill="#24487c"/><rect x="8" y="38" width="1" height="1" fill="#284c80"/><rect x="9" y="38" width="1" height="1" fill="#2c5384"/><rect x="10" y="38" width="1" height="1" fill="#30588a"/><rect x="11" y="38" width="1" height="1" fill="#3a6189"/><rect x="12" y="38" width="1" height="1" fill="#6c8cab"/><rect x="13" y="38" width="1" height="1" fill="#8ea6bf"/><rect x="14" y="38" width="1" height="1" fill="#b5c3d2"/><rect x="15" y="38" width="1" height="1" fill="#d0d5de"/><rect x="16" y="38" width="1" height="1" fill="#e0e0e6"/><rect x="17" y="38" width="1" height="1" fill="#e4e5e9"/><rect x="18" y="38" width="1" height="1" fill="#dcdfe3"/><rect x="19" y="38" width="1" height="1" fill="#c9d0d6"/><rect x="20" y="38" width="1" height="1" fill="#a8b4c0"/><rect x="21" y="38" width="1" height="1" fill="#8e9eb0"/><rect x="22" y="38" width="1" height="1" fill="#7a8ca4"/><rect x="23" y="38" width="2" height="1" fill="#708098"/><rect x="7" y="39" width="1" height="1" fill="#24487c"/><rect x="8" y="39" width="1" height="1" fill="#284c80"/><rect x="9" y="39" width="1" height="1" fill="#2c5384"/><rect x="10" y="39" width="1" height="1" fill="#30588a"/><rect x="11" y="39" width="1" height="1" fill="#3a6189"/><rect x="12" y="39" width="1" height="1" fill="#6c8cab"/><rect x="13" y="39" width="1" height="1" fill="#97acc2"/><rect x="14" y="39" width="1" height="1" fill="#b5c3d2"/><rect x="15" y="39" width="1" height="1" fill="#d0d5de"/><rect x="16" y="39" width="1" height="1" fill="#e0e0e6"/><rect x="17" y="39" width="1" height="1" fill="#e4e5e9"/><rect x="18" y="39" width="1" height="1" fill="#dcdfe3"/><rect x="19" y="39" width="1" height="1" fill="#c9d0d6"/><rect x="20" y="39" width="1" height="1" fill="#a8b4c0"/><rect x="21" y="39" width="1" height="1" fill="#8e9eb0"/><rect x="22" y="39" width="1" height="1" fill="#7a8ca4"/><rect x="23" y="39" width="2" height="1" fill="#708098"/><rect x="7" y="40" width="1" height="1" fill="#24487c"/><rect x="8" y="40" width="1" height="1" fill="#284c80"/><rect x="9" y="40" width="1" height="1" fill="#2c5384"/><rect x="10" y="40" width="1" height="1" fill="#355d8a"/><rect x="11" y="40" width="1" height="1" fill="#4a6d93"/><rect x="12" y="40" width="1" height="1" fill="#6c8cab"/><rect x="13" y="40" width="1" height="1" fill="#97acc2"/><rect x="14" y="40" width="1" height="1" fill="#b5c3d2"/><rect x="15" y="40" width="1" height="1" fill="#d0d5de"/><rect x="16" y="40" width="1" height="1" fill="#e0e0e6"/><rect x="17" y="40" width="1" height="1" fill="#d9dce2"/><rect x="18" y="40" width="1" height="1" fill="#d6d9df"/><rect x="19" y="40" width="1" height="1" fill="#b9c1cc"/><rect x="20" y="40" width="1" height="1" fill="#97a5b5"/><rect x="21" y="40" width="1" height="1" fill="#8898ad"/><rect x="22" y="40" width="1" height="1" fill="#7788a0"/><rect x="23" y="40" width="2" height="1" fill="#6d809c"/><rect x="7" y="41" width="1" height="1" fill="#24487c"/><rect x="8" y="41" width="1" height="1" fill="#284c80"/><rect x="9" y="41" width="1" height="1" fill="#2c5384"/><rect x="10" y="41" width="1" height="1" fill="#355d8a"/><rect x="11" y="41" width="1" height="1" fill="#4a6d93"/><rect x="12" y="41" width="1" height="1" fill="#7691b0"/><rect x="13" y="41" width="1" height="1" fill="#97acc2"/><rect x="14" y="41" width="1" height="1" fill="#b5c3d2"/><rect x="15" y="41" width="1" height="1" fill="#d0d5de"/><rect x="16" y="41" width="1" height="1" fill="#d6d9e0"/><rect x="17" y="41" width="1" height="1" fill="#d9dce2"/><rect x="18" y="41" width="1" height="1" fill="#c5ccd6"/><rect x="19" y="41" width="1" height="1" fill="#b9c1cc"/><rect x="20" y="41" width="1" height="1" fill="#97a5b5"/><rect x="21" y="41" width="1" height="1" fill="#8898ad"/><rect x="22" y="41" width="1" height="1" fill="#7788a0"/><rect x="23" y="41" width="2" height="1" fill="#6d809c"/><rect x="7" y="42" width="1" height="1" fill="#24487c"/><rect x="8" y="42" width="1" height="1" fill="#284c80"/><rect x="9" y="42" width="1" height="1" fill="#2c5384"/><rect x="10" y="42" width="1" height="1" fill="#355d8a"/><rect x="11" y="42" width="1" height="1" fill="#4a6d93"/><rect x="12" y="42" width="1" height="1" fill="#7691b0"/><rect x="13" y="42" width="1" height="1" fill="#97acc2"/><rect x="14" y="42" width="1" height="1" fill="#b5c3d2"/><rect x="15" y="42" width="1" height="1" fill="#d0d5de"/><rect x="16" y="42" width="1" height="1" fill="#d6d9e0"/><rect x="17" y="42" width="1" height="1" fill="#c3cbd5"/><rect x="18" y="42" width="1" height="1" fill="#c5ccd6"/><rect x="19" y="42" width="1" height="1" fill="#a9b6c1"/><rect x="20" y="42" width="1" height="1" fill="#8b9ab0"/><rect x="21" y="42" width="1" height="1" fill="#71819c"/><rect x="22" y="42" width="1" height="1" fill="#67799a"/><rect x="23" y="42" width="2" height="1" fill="#637697"/><rect x="7" y="43" width="1" height="1" fill="#24487c"/><rect x="8" y="43" width="1" height="1" fill="#284c80"/><rect x="9" y="43" width="1" height="1" fill="#2c5384"/><rect x="10" y="43" width="1" height="1" fill="#355d8a"/><rect x="11" y="43" width="1" height="1" fill="#4a6d93"/><rect x="12" y="43" width="1" height="1" fill="#7691b0"/><rect x="13" y="43" width="1" height="1" fill="#97acc2"/><rect x="14" y="43" width="1" height="1" fill="#b5c3d2"/><rect x="15" y="43" width="1" height="1" fill="#d0d5de"/><rect x="16" y="43" width="1" height="1" fill="#c8ced8"/><rect x="17" y="43" width="1" height="1" fill="#c3cbd5"/><rect x="18" y="43" width="1" height="1" fill="#b8c0c9"/><rect x="19" y="43" width="1" height="1" fill="#a9b6c1"/><rect x="20" y="43" width="1" height="1" fill="#8b9ab0"/><rect x="21" y="43" width="1" height="1" fill="#71819c"/><rect x="22" y="43" width="1" height="1" fill="#67799a"/><rect x="23" y="43" width="2" height="1" fill="#637697"/><rect x="7" y="44" width="1" height="1" fill="#24487c"/><rect x="8" y="44" width="1" height="1" fill="#284c80"/><rect x="9" y="44" width="1" height="1" fill="#2c5384"/><rect x="10" y="44" width="1" height="1" fill="#355d8a"/><rect x="11" y="44" width="1" height="1" fill="#4a6d93"/><rect x="12" y="44" width="1" height="1" fill="#7691b0"/><rect x="13" y="44" width="1" height="1" fill="#97acc2"/><rect x="14" y="44" width="1" height="1" fill="#c3cfd9"/><rect x="15" y="44" width="1" height="1" fill="#d0d5de"/><rect x="16" y="44" width="1" height="1" fill="#c8ced8"/><rect x="17" y="44" width="1" height="1" fill="#c3cbd5"/><rect x="18" y="44" width="1" height="1" fill="#b8c0c9"/><rect x="19" y="44" width="1" height="1" fill="#a9b6c1"/><rect x="20" y="44" width="1" height="1" fill="#8b9ab0"/><rect x="21" y="44" width="1" height="1" fill="#71819c"/><rect x="22" y="44" width="1" height="1" fill="#67799a"/><rect x="23" y="44" width="2" height="1" fill="#637697"/><rect x="7" y="45" width="1" height="1" fill="#24487c"/><rect x="8" y="45" width="1" height="1" fill="#284c80"/><rect x="9" y="45" width="1" height="1" fill="#2c5384"/><rect x="10" y="45" width="1" height="1" fill="#355d8a"/><rect x="11" y="45" width="1" height="1" fill="#4a6d93"/><rect x="12" y="45" width="1" height="1" fill="#7691b0"/><rect x="13" y="45" width="1" height="1" fill="#97acc2"/><rect x="14" y="45" width="1" height="1" fill="#c3cfd9"/><rect x="15" y="45" width="1" height="1" fill="#cdd4dd"/><rect x="16" y="45" width="1" height="1" fill="#c8ced8"/><rect x="17" y="45" width="1" height="1" fill="#c4cad4"/><rect x="18" y="45" width="1" height="1" fill="#b8c0c9"/><rect x="19" y="45" width="1" height="1" fill="#a9b6c1"/><rect x="20" y="45" width="1" height="1" fill="#94a3b3"/><rect x="21" y="45" width="1" height="1" fill="#8594aa"/><rect x="22" y="45" width="1" height="1" fill="#7a8aa2"/><rect x="23" y="45" width="2" height="1" fill="#7587a0"/><rect x="7" y="46" width="1" height="1" fill="#24487c"/><rect x="8" y="46" width="1" height="1" fill="#284c80"/><rect x="9" y="46" width="1" height="1" fill="#2c5384"/><rect x="10" y="46" width="1" height="1" fill="#355d8a"/><rect x="11" y="46" width="1" height="1" fill="#587a9c"/><rect x="12" y="46" width="1" height="1" fill="#7691b0"/><rect x="13" y="46" width="1" height="1" fill="#97acc2"/><rect x="14" y="46" width="1" height="1" fill="#c3cfd9"/><rect x="15" y="46" width="1" height="1" fill="#cdd4dd"/><rect x="16" y="46" width="1" height="1" fill="#c8ced8"/><rect x="17" y="46" width="1" height="1" fill="#c4cad4"/><rect x="18" y="46" width="1" height="1" fill="#b8c0c9"/><rect x="19" y="46" width="1" height="1" fill="#a9b6c1"/><rect x="20" y="46" width="1" height="1" fill="#94a3b3"/><rect x="21" y="46" width="1" height="1" fill="#8594aa"/><rect x="22" y="46" width="1" height="1" fill="#7a8aa2"/><rect x="23" y="46" width="2" height="1" fill="#7587a0"/><rect x="7" y="47" width="1" height="1" fill="#24487c"/><rect x="8" y="47" width="1" height="1" fill="#284c80"/><rect x="9" y="47" width="1" height="1" fill="#2c5384"/><rect x="10" y="47" width="1" height="1" fill="#355d8a"/><rect x="11" y="47" width="1" height="1" fill="#587a9c"/><rect x="12" y="47" width="1" height="1" fill="#8aa3bc"/><rect x="13" y="47" width="1" height="1" fill="#a7b8c9"/><rect x="14" y="47" width="1" height="1" fill="#c3cfd9"/><rect x="15" y="47" width="1" height="1" fill="#cdd4dd"/><rect x="16" y="47" width="1" height="1" fill="#c8ced8"/><rect x="17" y="47" width="1" height="1" fill="#c4cad4"/><rect x="18" y="47" width="1" height="1" fill="#b8c0c9"/><rect x="19" y="47" width="1" height="1" fill="#a9b6c1"/><rect x="20" y="47" width="1" height="1" fill="#94a3b3"/><rect x="21" y="47" width="1" height="1" fill="#8594aa"/><rect x="22" y="47" width="1" height="1" fill="#7a8aa2"/><rect x="23" y="47" width="2" height="1" fill="#7587a0"/><rect x="7" y="48" width="1" height="1" fill="#24487c"/><rect x="8" y="48" width="1" height="1" fill="#284c80"/><rect x="9" y="48" width="1" height="1" fill="#2c5384"/><rect x="10" y="48" width="1" height="1" fill="#355d8a"/><rect x="11" y="48" width="1" height="1" fill="#587a9c"/><rect x="12" y="48" width="1" height="1" fill="#8aa3bc"/><rect x="13" y="48" width="1" height="1" fill="#a7b8c9"/><rect x="14" y="48" width="1" height="1" fill="#c3cfd9"/><rect x="15" y="48" width="1" height="1" fill="#cdd4dd"/><rect x="16" y="48" width="1" height="1" fill="#c8ced8"/><rect x="17" y="48" width="1" height="1" fill="#b8bfcd"/><rect x="18" y="48" width="1" height="1" fill="#a2adbc"/><rect x="19" y="48" width="1" height="1" fill="#9fa8b9"/><rect x="20" y="48" width="1" height="1" fill="#8b97ab"/><rect x="21" y="48" width="1" height="1" fill="#8591a7"/><rect x="22" y="48" width="1" height="1" fill="#8290a8"/><rect x="23" y="48" width="2" height="1" fill="#7d8aa4"/><rect x="7" y="49" width="1" height="1" fill="#24487c"/><rect x="8" y="49" width="1" height="1" fill="#284c80"/><rect x="9" y="49" width="1" height="1" fill="#2c5384"/><rect x="10" y="49" width="1" height="1" fill="#355d8a"/><rect x="11" y="49" width="1" height="1" fill="#587a9c"/><rect x="12" y="49" width="1" height="1" fill="#8aa3bc"/><rect x="13" y="49" width="1" height="1" fill="#a7b8c9"/><rect x="14" y="49" width="1" height="1" fill="#c3cfd9"/><rect x="15" y="49" width="1" height="1" fill="#cdd4dd"/><rect x="16" y="49" width="1" height="1" fill="#b8c0cd"/><rect x="17" y="49" width="1" height="1" fill="#a0acbd"/><rect x="18" y="49" width="1" height="1" fill="#8e9ab0"/><rect x="19" y="49" width="1" height="1" fill="#8a98ad"/><rect x="20" y="49" width="1" height="1" fill="#8590a8"/><rect x="21" y="49" width="2" height="1" fill="#838ca6"/><rect x="23" y="49" width="2" height="1" fill="#7f8aa5"/><rect x="7" y="50" width="1" height="1" fill="#24487c"/><rect x="8" y="50" width="1" height="1" fill="#284c80"/><rect x="9" y="50" width="1" height="1" fill="#2c5384"/><rect x="10" y="50" width="1" height="1" fill="#355d8a"/><rect x="11" y="50" width="1" height="1" fill="#587a9c"/><rect x="12" y="50" width="1" height="1" fill="#8aa3bc"/><rect x="13" y="50" width="1" height="1" fill="#a7b8c9"/><rect x="14" y="50" width="1" height="1" fill="#c3cfd9"/><rect x="15" y="50" width="1" height="1" fill="#cdd4dd"/><rect x="16" y="50" width="1" height="1" fill="#b8c0cd"/><rect x="17" y="50" width="1" height="1" fill="#a0acbd"/><rect x="18" y="50" width="1" height="1" fill="#8e9ab0"/><rect x="19" y="50" width="1" height="1" fill="#8a98ad"/><rect x="20" y="50" width="1" height="1" fill="#8590a8"/><rect x="21" y="50" width="2" height="1" fill="#838ca6"/><rect x="23" y="50" width="2" height="1" fill="#7f8aa5"/><rect x="7" y="51" width="1" height="1" fill="#264f85"/><rect x="8" y="51" width="1" height="1" fill="#2a5586"/><rect x="9" y="51" width="1" height="1" fill="#3a608a"/><rect x="10" y="51" width="1" height="1" fill="#52759a"/><rect x="11" y="51" width="1" height="1" fill="#6e8db0"/><rect x="12" y="51" width="1" height="1" fill="#a4b4c7"/><rect x="13" y="51" width="1" height="1" fill="#bcc8d6"/><rect x="14" y="51" width="1" height="1" fill="#c8d0dc"/><rect x="15" y="51" width="1" height="1" fill="#c5ced9"/><rect x="16" y="51" width="1" height="1" fill="#a9b4c5"/><rect x="17" y="51" width="1" height="1" fill="#8f9cb0"/><rect x="18" y="51" width="1" height="1" fill="#8a96ac"/><rect x="19" y="51" width="1" height="1" fill="#8590a8"/><rect x="20" y="51" width="1" height="1" fill="#838ca6"/><rect x="21" y="51" width="1" height="1" fill="#808aa5"/><rect x="22" y="51" width="1" height="1" fill="#7f89a4"/><rect x="23" y="51" width="2" height="1" fill="#7e89a4"/><rect x="7" y="52" width="1" height="1" fill="#264f85"/><rect x="8" y="52" width="1" height="1" fill="#2a5586"/><rect x="9" y="52" width="1" height="1" fill="#3a608a"/><rect x="10" y="52" width="1" height="1" fill="#52759a"/><rect x="11" y="52" width="1" height="1" fill="#6e8db0"/><rect x="12" y="52" width="1" height="1" fill="#a4b4c7"/><rect x="13" y="52" width="1" height="1" fill="#bcc8d6"/><rect x="14" y="52" width="1" height="1" fill="#c8d0dc"/><rect x="15" y="52" width="1" height="1" fill="#c5ced9"/><rect x="16" y="52" width="1" height="1" fill="#a9b4c5"/><rect x="17" y="52" width="1" height="1" fill="#8f9cb0"/><rect x="18" y="52" width="1" height="1" fill="#8a96ac"/><rect x="19" y="52" width="1" height="1" fill="#838ea8"/><rect x="20" y="52" width="1" height="1" fill="#7e88a4"/><rect x="21" y="52" width="1" height="1" fill="#7783a0"/><rect x="22" y="52" width="3" height="1" fill="#76829f"/><rect x="7" y="53" width="1" height="1" fill="#264f85"/><rect x="8" y="53" width="1" height="1" fill="#2a5586"/><rect x="9" y="53" width="1" height="1" fill="#3a608a"/><rect x="10" y="53" width="1" height="1" fill="#52759a"/><rect x="11" y="53" width="1" height="1" fill="#6e8db0"/><rect x="12" y="53" width="1" height="1" fill="#a4b4c7"/><rect x="13" y="53" width="1" height="1" fill="#bcc8d6"/><rect x="14" y="53" width="1" height="1" fill="#c8d0dc"/><rect x="15" y="53" width="1" height="1" fill="#bec6d4"/><rect x="16" y="53" width="1" height="1" fill="#a9b4c5"/><rect x="17" y="53" width="1" height="1" fill="#8f9cb0"/><rect x="18" y="53" width="1" height="1" fill="#8a96ac"/><rect x="19" y="53" width="1" height="1" fill="#838ea8"/><rect x="20" y="53" width="1" height="1" fill="#8590a8"/><rect x="21" y="53" width="1" height="1" fill="#8791a9"/><rect x="22" y="53" width="1" height="1" fill="#8890aa"/><rect x="23" y="53" width="2" height="1" fill="#8a92aa"/><rect x="7" y="54" width="1" height="1" fill="#264f85"/><rect x="8" y="54" width="1" height="1" fill="#2a5586"/><rect x="9" y="54" width="1" height="1" fill="#3a608a"/><rect x="10" y="54" width="1" height="1" fill="#52759a"/><rect x="11" y="54" width="1" height="1" fill="#6e8db0"/><rect x="12" y="54" width="1" height="1" fill="#a4b4c7"/><rect x="13" y="54" width="1" height="1" fill="#bcc8d6"/><rect x="14" y="54" width="1" height="1" fill="#c8d0dc"/><rect x="15" y="54" width="1" height="1" fill="#bec6d4"/><rect x="16" y="54" width="1" height="1" fill="#a9b4c5"/><rect x="17" y="54" width="1" height="1" fill="#a0a9bb"/><rect x="18" y="54" width="2" height="1" fill="#9497b2"/><rect x="20" y="54" width="1" height="1" fill="#a0a0b8"/><rect x="21" y="54" width="1" height="1" fill="#b8b8c4"/><rect x="22" y="54" width="1" height="1" fill="#c2c0cb"/><rect x="23" y="54" width="2" height="1" fill="#c8c5cf"/><rect x="7" y="55" width="1" height="1" fill="#264f85"/><rect x="8" y="55" width="1" height="1" fill="#2a5586"/><rect x="9" y="55" width="1" height="1" fill="#3a608a"/><rect x="10" y="55" width="1" height="1" fill="#52759a"/><rect x="11" y="55" width="1" height="1" fill="#6e8db0"/><rect x="12" y="55" width="1" height="1" fill="#a4b4c7"/><rect x="13" y="55" width="1" height="1" fill="#bcc8d6"/><rect x="14" y="55" width="1" height="1" fill="#c8d0dc"/><rect x="15" y="55" width="1" height="1" fill="#bec6d4"/><rect x="16" y="55" width="1" height="1" fill="#b0b9c9"/><rect x="17" y="55" width="1" height="1" fill="#a7abc0"/><rect x="18" y="55" width="1" height="1" fill="#a6a6c0"/><rect x="19" y="55" width="1" height="1" fill="#a5a6c0"/><rect x="20" y="55" width="1" height="1" fill="#b8b8c8"/><rect x="21" y="55" width="1" height="1" fill="#c4c4cd"/><rect x="22" y="55" width="1" height="1" fill="#dadbde"/><rect x="23" y="55" width="2" height="1" fill="#dcdcde"/><rect x="7" y="56" width="1" height="1" fill="#264f85"/><rect x="8" y="56" width="1" height="1" fill="#2a5586"/><rect x="9" y="56" width="1" height="1" fill="#3a608a"/><rect x="10" y="56" width="1" height="1" fill="#52759a"/><rect x="11" y="56" width="1" height="1" fill="#6e8db0"/><rect x="12" y="56" width="1" height="1" fill="#a4b4c7"/><rect x="13" y="56" width="1" height="1" fill="#bcc8d6"/><rect x="14" y="56" width="1" height="1" fill="#cad2dc"/><rect x="15" y="56" width="1" height="1" fill="#d3d7e0"/><rect x="16" y="56" width="1" height="1" fill="#d0d4dd"/><rect x="17" y="56" width="1" height="1" fill="#c5c8d5"/><rect x="18" y="56" width="1" height="1" fill="#c8c9d4"/><rect x="19" y="56" width="1" height="1" fill="#c9cad6"/><rect x="20" y="56" width="1" height="1" fill="#d0d0d8"/><rect x="21" y="56" width="1" height="1" fill="#d5d6dd"/><rect x="22" y="56" width="1" height="1" fill="#cfd1d6"/><rect x="23" y="56" width="2" height="1" fill="#cbd0d5"/><rect x="7" y="57" width="1" height="1" fill="#264f85"/><rect x="8" y="57" width="1" height="1" fill="#2a5586"/><rect x="9" y="57" width="1" height="1" fill="#3a608a"/><rect x="10" y="57" width="1" height="1" fill="#52759a"/><rect x="11" y="57" width="1" height="1" fill="#6e8db0"/><rect x="12" y="57" width="1" height="1" fill="#a4b4c7"/><rect x="13" y="57" width="1" height="1" fill="#bcc8d6"/><rect x="14" y="57" width="1" height="1" fill="#cad2dc"/><rect x="15" y="57" width="1" height="1" fill="#d3d7e0"/><rect x="16" y="57" width="1" height="1" fill="#d0d4dd"/><rect x="17" y="57" width="1" height="1" fill="#d6d8de"/><rect x="18" y="57" width="1" height="1" fill="#d7d8de"/><rect x="19" y="57" width="1" height="1" fill="#dadadf"/><rect x="20" y="57" width="1" height="1" fill="#dfe0e3"/><rect x="21" y="57" width="1" height="1" fill="#e2e3e6"/><rect x="22" y="57" width="1" height="1" fill="#c8ccd2"/><rect x="23" y="57" width="2" height="1" fill="#b8bdc6"/><rect x="7" y="58" width="1" height="1" fill="#264f85"/><rect x="8" y="58" width="1" height="1" fill="#2a5586"/><rect x="9" y="58" width="1" height="1" fill="#3a608a"/><rect x="10" y="58" width="1" height="1" fill="#52759a"/><rect x="11" y="58" width="1" height="1" fill="#6e8db0"/><rect x="12" y="58" width="1" height="1" fill="#a8b9cb"/><rect x="13" y="58" width="1" height="1" fill="#c4d0dc"/><rect x="14" y="58" width="1" height="1" fill="#cad2dc"/><rect x="15" y="58" width="1" height="1" fill="#d3d7e0"/><rect x="16" y="58" width="1" height="1" fill="#d2d5dd"/><rect x="17" y="58" width="1" height="1" fill="#d6d8de"/><rect x="18" y="58" width="1" height="1" fill="#d7d6d8"/><rect x="19" y="58" width="1" height="1" fill="#d8d6da"/><rect x="20" y="58" width="1" height="1" fill="#d5d4d8"/><rect x="21" y="58" width="1" height="1" fill="#cdcdd6"/><rect x="22" y="58" width="1" height="1" fill="#aeb0bf"/><rect x="23" y="58" width="2" height="1" fill="#a1a4b5"/><rect x="7" y="59" width="1" height="1" fill="#264f85"/><rect x="8" y="59" width="1" height="1" fill="#2a5586"/><rect x="9" y="59" width="1" height="1" fill="#3a608a"/><rect x="10" y="59" width="1" height="1" fill="#52759a"/><rect x="11" y="59" width="1" height="1" fill="#6e8db0"/><rect x="12" y="59" width="1" height="1" fill="#a8b9cb"/><rect x="13" y="59" width="1" height="1" fill="#c4d0dc"/><rect x="14" y="59" width="1" height="1" fill="#cad2dc"/><rect x="15" y="59" width="1" height="1" fill="#cdd3dd"/><rect x="16" y="59" width="1" height="1" fill="#d2d5dd"/><rect x="17" y="59" width="1" height="1" fill="#c8ccce"/><rect x="18" y="59" width="1" height="1" fill="#cccfcb"/><rect x="19" y="59" width="1" height="1" fill="#c7cac8"/><rect x="20" y="59" width="1" height="1" fill="#cfcfd4"/><rect x="21" y="59" width="1" height="1" fill="#c5c6cf"/><rect x="22" y="59" width="1" height="1" fill="#979eb2"/><rect x="23" y="59" width="2" height="1" fill="#8590a8"/><rect x="7" y="60" width="1" height="1" fill="#264f85"/><rect x="8" y="60" width="1" height="1" fill="#2a5586"/><rect x="9" y="60" width="1" height="1" fill="#40668f"/><rect x="10" y="60" width="1" height="1" fill="#5a7c9e"/><rect x="11" y="60" width="1" height="1" fill="#7b97b5"/><rect x="12" y="60" width="1" height="1" fill="#a8b9cb"/><rect x="13" y="60" width="1" height="1" fill="#c4d0dc"/><rect x="14" y="60" width="1" height="1" fill="#cad2dc"/><rect x="15" y="60" width="1" height="1" fill="#cdd3dd"/><rect x="16" y="60" width="1" height="1" fill="#c6ccd2"/><rect x="17" y="60" width="1" height="1" fill="#bfc6c5"/><rect x="18" y="60" width="1" height="1" fill="#b4bfbc"/><rect x="19" y="60" width="1" height="1" fill="#b8c0be"/><rect x="20" y="60" width="1" height="1" fill="#cfcfd4"/><rect x="21" y="60" width="1" height="1" fill="#c5c6cf"/><rect x="22" y="60" width="1" height="1" fill="#979eb2"/><rect x="23" y="60" width="2" height="1" fill="#8590a8"/><rect x="7" y="61" width="1" height="1" fill="#264f85"/><rect x="8" y="61" width="1" height="1" fill="#2a5586"/><rect x="9" y="61" width="1" height="1" fill="#40668f"/><rect x="10" y="61" width="1" height="1" fill="#5a7c9e"/><rect x="11" y="61" width="1" height="1" fill="#7b97b5"/><rect x="12" y="61" width="1" height="1" fill="#a8b9cb"/><rect x="13" y="61" width="1" height="1" fill="#c4d0dc"/><rect x="14" y="61" width="1" height="1" fill="#cad2dc"/><rect x="15" y="61" width="1" height="1" fill="#cdd3dd"/><rect x="16" y="61" width="1" height="1" fill="#c6ccd2"/><rect x="17" y="61" width="1" height="1" fill="#bfc6c5"/><rect x="18" y="61" width="1" height="1" fill="#b4bfbc"/><rect x="19" y="61" width="1" height="1" fill="#b8c0be"/><rect x="20" y="61" width="1" height="1" fill="#cfcfd4"/><rect x="21" y="61" width="1" height="1" fill="#c5c6cf"/><rect x="22" y="61" width="1" height="1" fill="#979eb2"/><rect x="23" y="61" width="2" height="1" fill="#8590a8"/><rect x="7" y="62" width="1" height="1" fill="#264f85"/><rect x="8" y="62" width="1" height="1" fill="#2a5586"/><rect x="9" y="62" width="1" height="1" fill="#40668f"/><rect x="10" y="62" width="1" height="1" fill="#5a7c9e"/><rect x="11" y="62" width="1" height="1" fill="#7b97b5"/><rect x="12" y="62" width="1" height="1" fill="#a8b9cb"/><rect x="13" y="62" width="1" height="1" fill="#c4d0dc"/><rect x="14" y="62" width="1" height="1" fill="#cad2dc"/><rect x="15" y="62" width="1" height="1" fill="#cdd3dd"/><rect x="16" y="62" width="1" height="1" fill="#c6ccd2"/><rect x="17" y="62" width="1" height="1" fill="#bfc6c5"/><rect x="18" y="62" width="1" height="1" fill="#bbc2c0"/><rect x="19" y="62" width="1" height="1" fill="#c2c6c6"/><rect x="20" y="62" width="1" height="1" fill="#cfcfd4"/><rect x="21" y="62" width="1" height="1" fill="#c2c6cc"/><rect x="22" y="62" width="1" height="1" fill="#8e99ad"/><rect x="23" y="62" width="2" height="1" fill="#808ca2"/><rect x="7" y="63" width="1" height="1" fill="#264f85"/><rect x="8" y="63" width="1" height="1" fill="#2a5586"/><rect x="9" y="63" width="1" height="1" fill="#40668f"/><rect x="10" y="63" width="1" height="1" fill="#5a7c9e"/><rect x="11" y="63" width="1" height="1" fill="#7b97b5"/><rect x="12" y="63" width="1" height="1" fill="#a8b9cb"/><rect x="13" y="63" width="1" height="1" fill="#c4d0dc"/><rect x="14" y="63" width="1" height="1" fill="#cad2dc"/><rect x="15" y="63" width="1" height="1" fill="#c3cad6"/><rect x="16" y="63" width="1" height="1" fill="#b8bfcb"/><rect x="17" y="63" width="1" height="1" fill="#b0b7c3"/><rect x="18" y="63" width="1" height="1" fill="#aeb4c0"/><rect x="19" y="63" width="1" height="1" fill="#afb4c1"/><rect x="20" y="63" width="1" height="1" fill="#b1b5c1"/><rect x="21" y="63" width="1" height="1" fill="#b5b9c3"/><rect x="22" y="63" width="1" height="1" fill="#8d98a8"/><rect x="23" y="63" width="2" height="1" fill="#808ba0"/><rect x="7" y="64" width="1" height="1" fill="#264f85"/><rect x="8" y="64" width="1" height="1" fill="#2a5586"/><rect x="9" y="64" width="1" height="1" fill="#40668f"/><rect x="10" y="64" width="1" height="1" fill="#6a88a8"/><rect x="11" y="64" width="1" height="1" fill="#8aa3bc"/><rect x="12" y="64" width="1" height="1" fill="#a8b9cb"/><rect x="13" y="64" width="1" height="1" fill="#c4d0dc"/><rect x="14" y="64" width="1" height="1" fill="#cad2dc"/><rect x="15" y="64" width="1" height="1" fill="#c3cad6"/><rect x="16" y="64" width="1" height="1" fill="#b8bfcb"/><rect x="17" y="64" width="1" height="1" fill="#b0b7c3"/><rect x="18" y="64" width="1" height="1" fill="#aeb4c0"/><rect x="19" y="64" width="1" height="1" fill="#afb4c1"/><rect x="20" y="64" width="1" height="1" fill="#b1b5c1"/><rect x="21" y="64" width="1" height="1" fill="#b5b9c3"/><rect x="22" y="64" width="1" height="1" fill="#8d98a8"/><rect x="23" y="64" width="2" height="1" fill="#808ba0"/><rect x="7" y="65" width="1" height="1" fill="#264f85"/><rect x="8" y="65" width="1" height="1" fill="#2a5586"/><rect x="9" y="65" width="1" height="1" fill="#40668f"/><rect x="10" y="65" width="1" height="1" fill="#6a88a8"/><rect x="11" y="65" width="1" height="1" fill="#8aa3bc"/><rect x="12" y="65" width="1" height="1" fill="#a8b9cb"/><rect x="13" y="65" width="1" height="1" fill="#c4d0dc"/><rect x="14" y="65" width="1" height="1" fill="#cad2dc"/><rect x="15" y="65" width="1" height="1" fill="#c3cad6"/><rect x="16" y="65" width="1" height="1" fill="#b8bfcb"/><rect x="17" y="65" width="1" height="1" fill="#b0b7c3"/><rect x="18" y="65" width="1" height="1" fill="#aeb4c0"/><rect x="19" y="65" width="1" height="1" fill="#afb4c1"/><rect x="20" y="65" width="1" height="1" fill="#b1b5c1"/><rect x="21" y="65" width="1" height="1" fill="#b5b9c3"/><rect x="22" y="65" width="1" height="1" fill="#8d98a8"/><rect x="23" y="65" width="2" height="1" fill="#808ba0"/><rect x="7" y="66" width="1" height="1" fill="#264f85"/><rect x="8" y="66" width="1" height="1" fill="#2a5586"/><rect x="9" y="66" width="1" height="1" fill="#40668f"/><rect x="10" y="66" width="1" height="1" fill="#6a88a8"/><rect x="11" y="66" width="1" height="1" fill="#8aa3bc"/><rect x="12" y="66" width="1" height="1" fill="#a8b9cb"/><rect x="13" y="66" width="1" height="1" fill="#c4d0dc"/><rect x="14" y="66" width="1" height="1" fill="#cad2dc"/><rect x="15" y="66" width="1" height="1" fill="#c3cad6"/><rect x="16" y="66" width="1" height="1" fill="#b8bfcb"/><rect x="17" y="66" width="1" height="1" fill="#b0b7c3"/><rect x="18" y="66" width="1" height="1" fill="#aeb4c0"/><rect x="19" y="66" width="1" height="1" fill="#afb4c1"/><rect x="20" y="66" width="1" height="1" fill="#b1b5c1"/><rect x="21" y="66" width="1" height="1" fill="#b5b9c3"/><rect x="22" y="66" width="1" height="1" fill="#8d98a8"/><rect x="23" y="66" width="2" height="1" fill="#808ba0"/></svg><div style="position:absolute;left:0;top:0;right:0;bottom:0;box-shadow:inset 0 0 0 1px rgba(0,0,0,0.18)"></div></div>
<div style="position:absolute;left:873px;top:53px;width:442px;height:1214.6px;overflow:hidden"><svg style="position:absolute;left:-18.417px;top:-18.403px;width:478.833px;height:1251.406px;filter:blur(0.75px)" viewBox="-1 -1 26 68" preserveAspectRatio="none" shape-rendering="crispEdges"><rect x="-1" y="-1" width="26" height="68" fill="#55229a"/><rect x="16" y="-1" width="1" height="1" fill="#9d4a88"/><rect x="17" y="-1" width="2" height="1" fill="#a04d88"/><rect x="19" y="-1" width="1" height="1" fill="#9e4a88"/><rect x="20" y="-1" width="2" height="1" fill="#9a4684"/><rect x="22" y="-1" width="1" height="1" fill="#984482"/><rect x="23" y="-1" width="2" height="1" fill="#963f80"/><rect x="16" y="0" width="1" height="1" fill="#9d4a88"/><rect x="17" y="0" width="2" height="1" fill="#a04d88"/><rect x="19" y="0" width="1" height="1" fill="#9e4a88"/><rect x="20" y="0" width="2" height="1" fill="#9a4684"/><rect x="22" y="0" width="1" height="1" fill="#984482"/><rect x="23" y="0" width="2" height="1" fill="#963f80"/><rect x="16" y="1" width="1" height="1" fill="#9d4a88"/><rect x="17" y="1" width="2" height="1" fill="#a04d88"/><rect x="19" y="1" width="1" height="1" fill="#9e4a88"/><rect x="20" y="1" width="2" height="1" fill="#9a4684"/><rect x="22" y="1" width="1" height="1" fill="#984482"/><rect x="23" y="1" width="2" height="1" fill="#963f80"/><rect x="16" y="2" width="1" height="1" fill="#9d4a88"/><rect x="17" y="2" width="2" height="1" fill="#a04d88"/><rect x="19" y="2" width="1" height="1" fill="#9e4a88"/><rect x="20" y="2" width="2" height="1" fill="#9a4684"/><rect x="22" y="2" width="1" height="1" fill="#984482"/><rect x="23" y="2" width="2" height="1" fill="#963f80"/><rect x="16" y="3" width="1" height="1" fill="#9d4a88"/><rect x="17" y="3" width="1" height="1" fill="#a04d88"/><rect x="18" y="3" width="1" height="1" fill="#a65290"/><rect x="19" y="3" width="1" height="1" fill="#9e4a88"/><rect x="20" y="3" width="2" height="1" fill="#9a4684"/><rect x="22" y="3" width="1" height="1" fill="#984482"/><rect x="23" y="3" width="2" height="1" fill="#963f80"/><rect x="16" y="4" width="1" height="1" fill="#9d4a88"/><rect x="17" y="4" width="1" height="1" fill="#a04d88"/><rect x="18" y="4" width="1" height="1" fill="#a65290"/><rect x="19" y="4" width="1" height="1" fill="#a24f8c"/><rect x="20" y="4" width="2" height="1" fill="#9a4684"/><rect x="22" y="4" width="1" height="1" fill="#984482"/><rect x="23" y="4" width="2" height="1" fill="#963f80"/><rect x="16" y="5" width="1" height="1" fill="#9d4a88"/><rect x="17" y="5" width="1" height="1" fill="#a04d88"/><rect x="18" y="5" width="1" height="1" fill="#a65290"/><rect x="19" y="5" width="1" height="1" fill="#a24f8c"/><rect x="20" y="5" width="2" height="1" fill="#9a4684"/><rect x="22" y="5" width="1" height="1" fill="#984482"/><rect x="23" y="5" width="2" height="1" fill="#963f80"/><rect x="16" y="6" width="1" height="1" fill="#9d4a88"/><rect x="17" y="6" width="1" height="1" fill="#a04d88"/><rect x="18" y="6" width="1" height="1" fill="#a65290"/><rect x="19" y="6" width="1" height="1" fill="#a24f8c"/><rect x="20" y="6" width="2" height="1" fill="#9a4684"/><rect x="22" y="6" width="1" height="1" fill="#984482"/><rect x="23" y="6" width="2" height="1" fill="#963f80"/><rect x="16" y="7" width="1" height="1" fill="#9d4a88"/><rect x="17" y="7" width="1" height="1" fill="#bb3a48"/><rect x="18" y="7" width="1" height="1" fill="#a65290"/><rect x="19" y="7" width="1" height="1" fill="#a24f8c"/><rect x="20" y="7" width="2" height="1" fill="#9a4684"/><rect x="22" y="7" width="1" height="1" fill="#984482"/><rect x="23" y="7" width="2" height="1" fill="#963f80"/><rect x="16" y="8" width="1" height="1" fill="#9d4a88"/><rect x="17" y="8" width="1" height="1" fill="#bb3a48"/><rect x="18" y="8" width="1" height="1" fill="#a65290"/><rect x="19" y="8" width="1" height="1" fill="#a24f8c"/><rect x="20" y="8" width="2" height="1" fill="#9a4684"/><rect x="22" y="8" width="3" height="1" fill="#a04c8a"/><rect x="16" y="9" width="1" height="1" fill="#9d4a88"/><rect x="17" y="9" width="1" height="1" fill="#bb3a48"/><rect x="18" y="9" width="1" height="1" fill="#a65290"/><rect x="19" y="9" width="1" height="1" fill="#a24f8c"/><rect x="20" y="9" width="2" height="1" fill="#9a4684"/><rect x="22" y="9" width="3" height="1" fill="#a04c8a"/><rect x="15" y="10" width="1" height="1" fill="#8a3c80"/><rect x="16" y="10" width="1" height="1" fill="#9d4a88"/><rect x="17" y="10" width="1" height="1" fill="#bb3a48"/><rect x="18" y="10" width="1" height="1" fill="#a65290"/><rect x="19" y="10" width="1" height="1" fill="#a24f8c"/><rect x="20" y="10" width="2" height="1" fill="#9a4684"/><rect x="22" y="10" width="3" height="1" fill="#a04c8a"/><rect x="15" y="11" width="1" height="1" fill="#8a3c80"/><rect x="16" y="11" width="1" height="1" fill="#9d4a88"/><rect x="17" y="11" width="1" height="1" fill="#bb3a48"/><rect x="18" y="11" width="1" height="1" fill="#a65290"/><rect x="19" y="11" width="1" height="1" fill="#a24f8c"/><rect x="20" y="11" width="2" height="1" fill="#9a4684"/><rect x="22" y="11" width="3" height="1" fill="#a04c8a"/><rect x="15" y="12" width="1" height="1" fill="#8a3c80"/><rect x="16" y="12" width="1" height="1" fill="#9d4a88"/><rect x="17" y="12" width="1" height="1" fill="#bb3a48"/><rect x="18" y="12" width="1" height="1" fill="#a65290"/><rect x="19" y="12" width="1" height="1" fill="#a24f8c"/><rect x="20" y="12" width="1" height="1" fill="#954080"/><rect x="21" y="12" width="2" height="1" fill="#93407f"/><rect x="23" y="12" width="2" height="1" fill="#933f7e"/><rect x="15" y="13" width="1" height="1" fill="#8a3c80"/><rect x="16" y="13" width="2" height="1" fill="#bb3a48"/><rect x="18" y="13" width="1" height="1" fill="#a65290"/><rect x="19" y="13" width="1" height="1" fill="#a24f8c"/><rect x="20" y="13" width="1" height="1" fill="#954080"/><rect x="21" y="13" width="2" height="1" fill="#93407f"/><rect x="23" y="13" width="2" height="1" fill="#933f7e"/><rect x="15" y="14" width="1" height="1" fill="#8a3c80"/><rect x="16" y="14" width="2" height="1" fill="#bb3a48"/><rect x="18" y="14" width="1" height="1" fill="#a65290"/><rect x="19" y="14" width="1" height="1" fill="#a24f8c"/><rect x="20" y="14" width="1" height="1" fill="#954080"/><rect x="21" y="14" width="2" height="1" fill="#93407f"/><rect x="23" y="14" width="2" height="1" fill="#933f7e"/><rect x="15" y="15" width="1" height="1" fill="#8a3c80"/><rect x="16" y="15" width="2" height="1" fill="#bb3a48"/><rect x="18" y="15" width="1" height="1" fill="#a65290"/><rect x="19" y="15" width="1" height="1" fill="#a24f8c"/><rect x="20" y="15" width="1" height="1" fill="#954080"/><rect x="21" y="15" width="2" height="1" fill="#93407f"/><rect x="23" y="15" width="2" height="1" fill="#933f7e"/><rect x="15" y="16" width="1" height="1" fill="#8a3c80"/><rect x="16" y="16" width="2" height="1" fill="#bb3a48"/><rect x="18" y="16" width="1" height="1" fill="#a65290"/><rect x="19" y="16" width="1" height="1" fill="#a24f8c"/><rect x="20" y="16" width="1" height="1" fill="#954080"/><rect x="21" y="16" width="2" height="1" fill="#93407f"/><rect x="23" y="16" width="2" height="1" fill="#933f7e"/><rect x="15" y="17" width="1" height="1" fill="#8e4282"/><rect x="16" y="17" width="2" height="1" fill="#bb3a48"/><rect x="18" y="17" width="1" height="1" fill="#a65290"/><rect x="19" y="17" width="4" height="1" fill="#a5528e"/><rect x="23" y="17" width="2" height="1" fill="#bb3a48"/><rect x="15" y="18" width="1" height="1" fill="#8e4282"/><rect x="16" y="18" width="2" height="1" fill="#bb3a48"/><rect x="18" y="18" width="1" height="1" fill="#a65290"/><rect x="19" y="18" width="2" height="1" fill="#a5528e"/><rect x="21" y="18" width="4" height="1" fill="#bb3a48"/><rect x="15" y="19" width="1" height="1" fill="#8e4282"/><rect x="16" y="19" width="2" height="1" fill="#bb3a48"/><rect x="18" y="19" width="1" height="1" fill="#a65290"/><rect x="19" y="19" width="2" height="1" fill="#a5528e"/><rect x="21" y="19" width="4" height="1" fill="#bb3a48"/><rect x="15" y="20" width="1" height="1" fill="#8e4282"/><rect x="16" y="20" width="1" height="1" fill="#a5528f"/><rect x="17" y="20" width="1" height="1" fill="#bb3a48"/><rect x="18" y="20" width="1" height="1" fill="#a65290"/><rect x="19" y="20" width="1" height="1" fill="#9e4a8a"/><rect x="20" y="20" width="1" height="1" fill="#923f80"/><rect x="21" y="20" width="1" height="1" fill="#92407f"/><rect x="22" y="20" width="3" height="1" fill="#bb3a48"/><rect x="15" y="21" width="1" height="1" fill="#8e4282"/><rect x="16" y="21" width="2" height="1" fill="#bb3a48"/><rect x="18" y="21" width="1" height="1" fill="#a65290"/><rect x="19" y="21" width="1" height="1" fill="#9e4a8a"/><rect x="20" y="21" width="1" height="1" fill="#923f80"/><rect x="21" y="21" width="1" height="1" fill="#92407f"/><rect x="22" y="21" width="3" height="1" fill="#9b4887"/><rect x="14" y="22" width="1" height="1" fill="#8e4282"/><rect x="15" y="22" width="1" height="1" fill="#9c4c8c"/><rect x="16" y="22" width="3" height="1" fill="#bb3a48"/><rect x="19" y="22" width="1" height="1" fill="#9e4a8a"/><rect x="20" y="22" width="1" height="1" fill="#923f80"/><rect x="21" y="22" width="1" height="1" fill="#8c3a7c"/><rect x="22" y="22" width="3" height="1" fill="#8e3c7d"/><rect x="14" y="23" width="1" height="1" fill="#8e4282"/><rect x="15" y="23" width="1" height="1" fill="#9c4c8c"/><rect x="16" y="23" width="3" height="1" fill="#bb3a48"/><rect x="19" y="23" width="2" height="1" fill="#9e4a8a"/><rect x="21" y="23" width="1" height="1" fill="#8c3a7c"/><rect x="22" y="23" width="3" height="1" fill="#8e3c7d"/><rect x="14" y="24" width="1" height="1" fill="#8e4282"/><rect x="15" y="24" width="1" height="1" fill="#9c4c8c"/><rect x="16" y="24" width="4" height="1" fill="#bb3a48"/><rect x="20" y="24" width="1" height="1" fill="#9e4a8a"/><rect x="21" y="24" width="1" height="1" fill="#963f82"/><rect x="22" y="24" width="3" height="1" fill="#984485"/><rect x="14" y="25" width="1" height="1" fill="#8e4282"/><rect x="15" y="25" width="1" height="1" fill="#9c4c8c"/><rect x="16" y="25" width="5" height="1" fill="#bb3a48"/><rect x="21" y="25" width="1" height="1" fill="#a04c8a"/><rect x="22" y="25" width="3" height="1" fill="#984485"/><rect x="14" y="26" width="1" height="1" fill="#8e4282"/><rect x="15" y="26" width="1" height="1" fill="#9c4c8c"/><rect x="16" y="26" width="6" height="1" fill="#bb3a48"/><rect x="22" y="26" width="1" height="1" fill="#a04c8a"/><rect x="23" y="26" width="2" height="1" fill="#9a4686"/><rect x="14" y="27" width="1" height="1" fill="#8e4282"/><rect x="15" y="27" width="1" height="1" fill="#9c4c8c"/><rect x="16" y="27" width="6" height="1" fill="#bb3a48"/><rect x="22" y="27" width="1" height="1" fill="#a04c8a"/><rect x="23" y="27" width="2" height="1" fill="#9a4686"/><rect x="14" y="28" width="1" height="1" fill="#8e4282"/><rect x="15" y="28" width="1" height="1" fill="#9c4c8c"/><rect x="16" y="28" width="6" height="1" fill="#bb3a48"/><rect x="22" y="28" width="1" height="1" fill="#a04c8a"/><rect x="23" y="28" width="2" height="1" fill="#9a4686"/><rect x="14" y="29" width="1" height="1" fill="#8e4282"/><rect x="15" y="29" width="1" height="1" fill="#9c4c8c"/><rect x="16" y="29" width="6" height="1" fill="#bb3a48"/><rect x="22" y="29" width="1" height="1" fill="#a04c8a"/><rect x="23" y="29" width="2" height="1" fill="#9a4686"/><rect x="14" y="30" width="1" height="1" fill="#8e4282"/><rect x="15" y="30" width="1" height="1" fill="#9c4c8c"/><rect x="16" y="30" width="6" height="1" fill="#bb3a48"/><rect x="22" y="30" width="1" height="1" fill="#a04c8a"/><rect x="23" y="30" width="2" height="1" fill="#9a4686"/><rect x="14" y="31" width="1" height="1" fill="#8e4282"/><rect x="15" y="31" width="7" height="1" fill="#bb3a48"/><rect x="22" y="31" width="1" height="1" fill="#a04c8a"/><rect x="23" y="31" width="2" height="1" fill="#9a4686"/><rect x="13" y="32" width="1" height="1" fill="#8e4080"/><rect x="14" y="32" width="1" height="1" fill="#8e4282"/><rect x="15" y="32" width="8" height="1" fill="#bb3a48"/><rect x="23" y="32" width="2" height="1" fill="#9e4a8a"/><rect x="13" y="33" width="1" height="1" fill="#8e4080"/><rect x="14" y="33" width="1" height="1" fill="#8e4282"/><rect x="15" y="33" width="7" height="1" fill="#bb3a48"/><rect x="22" y="33" width="3" height="1" fill="#a04c8a"/><rect x="13" y="34" width="1" height="1" fill="#923f84"/><rect x="14" y="34" width="1" height="1" fill="#a04e8c"/><rect x="15" y="34" width="7" height="1" fill="#bb3a48"/><rect x="22" y="34" width="3" height="1" fill="#a04c8a"/><rect x="13" y="35" width="1" height="1" fill="#923f84"/><rect x="14" y="35" width="1" height="1" fill="#a04e8c"/><rect x="15" y="35" width="6" height="1" fill="#bb3a48"/><rect x="21" y="35" width="1" height="1" fill="#a04c8a"/><rect x="22" y="35" width="1" height="1" fill="#9e4a8a"/><rect x="23" y="35" width="2" height="1" fill="#9a4686"/><rect x="13" y="36" width="1" height="1" fill="#923f84"/><rect x="14" y="36" width="1" height="1" fill="#a04e8c"/><rect x="15" y="36" width="5" height="1" fill="#bb3a48"/><rect x="20" y="36" width="1" height="1" fill="#a5528e"/><rect x="21" y="36" width="1" height="1" fill="#9e4a8a"/><rect x="22" y="36" width="1" height="1" fill="#984686"/><rect x="23" y="36" width="2" height="1" fill="#923f82"/><rect x="13" y="37" width="1" height="1" fill="#923f84"/><rect x="14" y="37" width="1" height="1" fill="#a04e8c"/><rect x="15" y="37" width="5" height="1" fill="#bb3a48"/><rect x="20" y="37" width="1" height="1" fill="#9e4a8a"/><rect x="21" y="37" width="1" height="1" fill="#984686"/><rect x="22" y="37" width="1" height="1" fill="#8e3c82"/><rect x="23" y="37" width="2" height="1" fill="#86347a"/><rect x="13" y="38" width="1" height="1" fill="#923f84"/><rect x="14" y="38" width="1" height="1" fill="#a04e8c"/><rect x="15" y="38" width="5" height="1" fill="#bb3a48"/><rect x="20" y="38" width="1" height="1" fill="#9e4a8a"/><rect x="21" y="38" width="1" height="1" fill="#984686"/><rect x="22" y="38" width="1" height="1" fill="#8e3c82"/><rect x="23" y="38" width="2" height="1" fill="#86347a"/><rect x="13" y="39" width="1" height="1" fill="#923f84"/><rect x="14" y="39" width="1" height="1" fill="#a04e8c"/><rect x="15" y="39" width="5" height="1" fill="#bb3a48"/><rect x="20" y="39" width="1" height="1" fill="#94408a"/><rect x="21" y="39" width="1" height="1" fill="#8c3a80"/><rect x="22" y="39" width="1" height="1" fill="#8a387e"/><rect x="23" y="39" width="2" height="1" fill="#7e2c70"/><rect x="13" y="40" width="1" height="1" fill="#923f84"/><rect x="14" y="40" width="1" height="1" fill="#a04e8c"/><rect x="15" y="40" width="4" height="1" fill="#bb3a48"/><rect x="19" y="40" width="1" height="1" fill="#a04e8c"/><rect x="20" y="40" width="1" height="1" fill="#94408a"/><rect x="21" y="40" width="1" height="1" fill="#8c3a80"/><rect x="22" y="40" width="1" height="1" fill="#8a387e"/><rect x="23" y="40" width="2" height="1" fill="#7e2c70"/><rect x="13" y="41" width="1" height="1" fill="#923f84"/><rect x="14" y="41" width="1" height="1" fill="#a04e8c"/><rect x="15" y="41" width="1" height="1" fill="#a5548f"/><rect x="16" y="41" width="1" height="1" fill="#a65490"/><rect x="17" y="41" width="1" height="1" fill="#a45290"/><rect x="18" y="41" width="1" height="1" fill="#a04e8c"/><rect x="19" y="41" width="1" height="1" fill="#9a4686"/><rect x="20" y="41" width="1" height="1" fill="#94408a"/><rect x="21" y="41" width="1" height="1" fill="#8c3a80"/><rect x="22" y="41" width="1" height="1" fill="#8a387e"/><rect x="23" y="41" width="2" height="1" fill="#7e2c70"/><rect x="13" y="42" width="1" height="1" fill="#923f84"/><rect x="14" y="42" width="1" height="1" fill="#a04e8c"/><rect x="15" y="42" width="1" height="1" fill="#a5548f"/><rect x="16" y="42" width="1" height="1" fill="#a45190"/><rect x="17" y="42" width="1" height="1" fill="#9e4c8a"/><rect x="18" y="42" width="1" height="1" fill="#9a4888"/><rect x="19" y="42" width="1" height="1" fill="#9a4686"/><rect x="20" y="42" width="1" height="1" fill="#8c3a80"/><rect x="21" y="42" width="4" height="1" fill="#7e2c70"/><rect x="13" y="43" width="1" height="1" fill="#923f84"/><rect x="14" y="43" width="1" height="1" fill="#a04e8c"/><rect x="15" y="43" width="1" height="1" fill="#a5548f"/><rect x="16" y="43" width="1" height="1" fill="#a45190"/><rect x="17" y="43" width="1" height="1" fill="#9e4c8a"/><rect x="18" y="43" width="1" height="1" fill="#9a4888"/><rect x="19" y="43" width="1" height="1" fill="#9a4686"/><rect x="20" y="43" width="1" height="1" fill="#8c3a80"/><rect x="21" y="43" width="4" height="1" fill="#7e2c70"/><rect x="13" y="44" width="1" height="1" fill="#923f84"/><rect x="14" y="44" width="1" height="1" fill="#a5528f"/><rect x="15" y="44" width="1" height="1" fill="#a8558f"/><rect x="16" y="44" width="1" height="1" fill="#a45190"/><rect x="17" y="44" width="1" height="1" fill="#9e4c8a"/><rect x="18" y="44" width="1" height="1" fill="#9a4888"/><rect x="19" y="44" width="1" height="1" fill="#94428a"/><rect x="20" y="44" width="1" height="1" fill="#8c3a80"/><rect x="21" y="44" width="4" height="1" fill="#7e2c70"/><rect x="13" y="45" width="1" height="1" fill="#923f84"/><rect x="14" y="45" width="1" height="1" fill="#a5528f"/><rect x="15" y="45" width="1" height="1" fill="#a8558f"/><rect x="16" y="45" width="1" height="1" fill="#a45190"/><rect x="17" y="45" width="1" height="1" fill="#9e4c8a"/><rect x="18" y="45" width="1" height="1" fill="#9a4888"/><rect x="19" y="45" width="1" height="1" fill="#94428a"/><rect x="20" y="45" width="1" height="1" fill="#8a387e"/><rect x="21" y="45" width="4" height="1" fill="#86347a"/><rect x="12" y="46" width="1" height="1" fill="#8c3c80"/><rect x="13" y="46" width="1" height="1" fill="#923f84"/><rect x="14" y="46" width="1" height="1" fill="#a5528f"/><rect x="15" y="46" width="1" height="1" fill="#a8558f"/><rect x="16" y="46" width="1" height="1" fill="#a45190"/><rect x="17" y="46" width="1" height="1" fill="#9e4c8a"/><rect x="18" y="46" width="1" height="1" fill="#9a4888"/><rect x="19" y="46" width="1" height="1" fill="#94428a"/><rect x="20" y="46" width="1" height="1" fill="#8a387e"/><rect x="21" y="46" width="4" height="1" fill="#86347a"/><rect x="12" y="47" width="1" height="1" fill="#8c3c80"/><rect x="13" y="47" width="1" height="1" fill="#923f84"/><rect x="14" y="47" width="1" height="1" fill="#a5528f"/><rect x="15" y="47" width="1" height="1" fill="#a8558f"/><rect x="16" y="47" width="1" height="1" fill="#a45190"/><rect x="17" y="47" width="1" height="1" fill="#97448a"/><rect x="18" y="47" width="1" height="1" fill="#8c3a80"/><rect x="19" y="47" width="2" height="1" fill="#8a387e"/><rect x="21" y="47" width="4" height="1" fill="#86347a"/><rect x="12" y="48" width="1" height="1" fill="#8c3c80"/><rect x="13" y="48" width="1" height="1" fill="#923f84"/><rect x="14" y="48" width="1" height="1" fill="#a5528f"/><rect x="15" y="48" width="1" height="1" fill="#a5548f"/><rect x="16" y="48" width="1" height="1" fill="#9c4a8a"/><rect x="17" y="48" width="1" height="1" fill="#97448a"/><rect x="18" y="48" width="1" height="1" fill="#8c3a80"/><rect x="19" y="48" width="2" height="1" fill="#8a387e"/><rect x="21" y="48" width="4" height="1" fill="#86347a"/><rect x="12" y="49" width="1" height="1" fill="#8c3c80"/><rect x="13" y="49" width="1" height="1" fill="#923f84"/><rect x="14" y="49" width="1" height="1" fill="#a5528f"/><rect x="15" y="49" width="1" height="1" fill="#a5548f"/><rect x="16" y="49" width="1" height="1" fill="#9c4a8a"/><rect x="17" y="49" width="1" height="1" fill="#8e3c82"/><rect x="18" y="49" width="1" height="1" fill="#8c3a80"/><rect x="19" y="49" width="2" height="1" fill="#8a387e"/><rect x="21" y="49" width="4" height="1" fill="#86347a"/><rect x="12" y="50" width="1" height="1" fill="#8c3c80"/><rect x="13" y="50" width="1" height="1" fill="#923f84"/><rect x="14" y="50" width="1" height="1" fill="#a5528f"/><rect x="15" y="50" width="1" height="1" fill="#a5548f"/><rect x="16" y="50" width="1" height="1" fill="#9c4a8a"/><rect x="17" y="50" width="1" height="1" fill="#8e3c82"/><rect x="18" y="50" width="1" height="1" fill="#8c3a80"/><rect x="19" y="50" width="2" height="1" fill="#8a387e"/><rect x="21" y="50" width="4" height="1" fill="#86347a"/><rect x="12" y="51" width="1" height="1" fill="#94448a"/><rect x="13" y="51" width="1" height="1" fill="#9e4c8c"/><rect x="14" y="51" width="1" height="1" fill="#a4528e"/><rect x="15" y="51" width="1" height="1" fill="#a3508e"/><rect x="16" y="51" width="1" height="1" fill="#99468a"/><rect x="17" y="51" width="1" height="1" fill="#923f82"/><rect x="18" y="51" width="1" height="1" fill="#8c3a7e"/><rect x="19" y="51" width="3" height="1" fill="#8a387c"/><rect x="22" y="51" width="3" height="1" fill="#86347a"/><rect x="12" y="52" width="1" height="1" fill="#94448a"/><rect x="13" y="52" width="1" height="1" fill="#9e4c8c"/><rect x="14" y="52" width="1" height="1" fill="#a4528e"/><rect x="15" y="52" width="1" height="1" fill="#a3508e"/><rect x="16" y="52" width="1" height="1" fill="#99468a"/><rect x="17" y="52" width="1" height="1" fill="#923f82"/><rect x="18" y="52" width="1" height="1" fill="#8c3a7e"/><rect x="19" y="52" width="3" height="1" fill="#8a387c"/><rect x="22" y="52" width="3" height="1" fill="#86347a"/><rect x="12" y="53" width="1" height="1" fill="#94448a"/><rect x="13" y="53" width="1" height="1" fill="#9e4c8c"/><rect x="14" y="53" width="1" height="1" fill="#a4528e"/><rect x="15" y="53" width="1" height="1" fill="#a3508e"/><rect x="16" y="53" width="1" height="1" fill="#99468a"/><rect x="17" y="53" width="1" height="1" fill="#923f82"/><rect x="18" y="53" width="1" height="1" fill="#8c3a7e"/><rect x="19" y="53" width="2" height="1" fill="#8e3c80"/><rect x="21" y="53" width="4" height="1" fill="#8c3a7e"/><rect x="12" y="54" width="1" height="1" fill="#94448a"/><rect x="13" y="54" width="1" height="1" fill="#9e4c8c"/><rect x="14" y="54" width="1" height="1" fill="#a4528e"/><rect x="15" y="54" width="1" height="1" fill="#a3508e"/><rect x="16" y="54" width="1" height="1" fill="#99468a"/><rect x="17" y="54" width="1" height="1" fill="#944486"/><rect x="18" y="54" width="1" height="1" fill="#963f82"/><rect x="19" y="54" width="1" height="1" fill="#8e3c80"/><rect x="20" y="54" width="1" height="1" fill="#9c4888"/><rect x="21" y="54" width="1" height="1" fill="#9a4686"/><rect x="22" y="54" width="3" height="1" fill="#bb3a48"/><rect x="12" y="55" width="1" height="1" fill="#94448a"/><rect x="13" y="55" width="1" height="1" fill="#9e4c8c"/><rect x="14" y="55" width="1" height="1" fill="#a4528e"/><rect x="15" y="55" width="1" height="1" fill="#a3508e"/><rect x="16" y="55" width="1" height="1" fill="#9c4a88"/><rect x="17" y="55" width="1" height="1" fill="#944486"/><rect x="18" y="55" width="1" height="1" fill="#963f82"/><rect x="19" y="55" width="1" height="1" fill="#9a4686"/><rect x="20" y="55" width="1" height="1" fill="#a24e8c"/><rect x="21" y="55" width="4" height="1" fill="#bb3a48"/><rect x="12" y="56" width="1" height="1" fill="#94448a"/><rect x="13" y="56" width="1" height="1" fill="#9e4c8c"/><rect x="14" y="56" width="1" height="1" fill="#a4528e"/><rect x="15" y="56" width="1" height="1" fill="#a3508e"/><rect x="16" y="56" width="1" height="1" fill="#9c4a88"/><rect x="17" y="56" width="1" height="1" fill="#944486"/><rect x="18" y="56" width="7" height="1" fill="#bb3a48"/><rect x="12" y="57" width="1" height="1" fill="#94448a"/><rect x="13" y="57" width="1" height="1" fill="#9e4c8c"/><rect x="14" y="57" width="1" height="1" fill="#a4528e"/><rect x="15" y="57" width="8" height="1" fill="#bb3a48"/><rect x="23" y="57" width="2" height="1" fill="#a04c8a"/><rect x="12" y="58" width="1" height="1" fill="#94448a"/><rect x="13" y="58" width="1" height="1" fill="#9e4c8c"/><rect x="14" y="58" width="1" height="1" fill="#a4528e"/><rect x="15" y="58" width="7" height="1" fill="#bb3a48"/><rect x="22" y="58" width="1" height="1" fill="#9c4888"/><rect x="23" y="58" width="2" height="1" fill="#9a4686"/><rect x="12" y="59" width="1" height="1" fill="#94448a"/><rect x="13" y="59" width="1" height="1" fill="#9e4c8c"/><rect x="14" y="59" width="1" height="1" fill="#a4528e"/><rect x="15" y="59" width="6" height="1" fill="#bb3a48"/><rect x="21" y="59" width="1" height="1" fill="#9e4a8a"/><rect x="22" y="59" width="1" height="1" fill="#9c4888"/><rect x="23" y="59" width="2" height="1" fill="#9a4686"/><rect x="11" y="60" width="1" height="1" fill="#8c3c80"/><rect x="12" y="60" width="1" height="1" fill="#94448a"/><rect x="13" y="60" width="1" height="1" fill="#9e4c8c"/><rect x="14" y="60" width="1" height="1" fill="#a4528e"/><rect x="15" y="60" width="1" height="1" fill="#a3508e"/><rect x="16" y="60" width="1" height="1" fill="#a04c8c"/><rect x="17" y="60" width="4" height="1" fill="#bb3a48"/><rect x="21" y="60" width="1" height="1" fill="#9e4a8a"/><rect x="22" y="60" width="1" height="1" fill="#8e3c80"/><rect x="23" y="60" width="2" height="1" fill="#86347a"/><rect x="11" y="61" width="1" height="1" fill="#8c3c80"/><rect x="12" y="61" width="1" height="1" fill="#94448a"/><rect x="13" y="61" width="1" height="1" fill="#9e4c8c"/><rect x="14" y="61" width="1" height="1" fill="#a4528e"/><rect x="15" y="61" width="1" height="1" fill="#a3508e"/><rect x="16" y="61" width="1" height="1" fill="#a04c8c"/><rect x="17" y="61" width="1" height="1" fill="#bb3a48"/><rect x="18" y="61" width="1" height="1" fill="#9a4686"/><rect x="19" y="61" width="1" height="1" fill="#a04c8a"/><rect x="20" y="61" width="1" height="1" fill="#a24e8c"/><rect x="21" y="61" width="1" height="1" fill="#9e4a8a"/><rect x="22" y="61" width="1" height="1" fill="#8e3c80"/><rect x="23" y="61" width="2" height="1" fill="#86347a"/><rect x="11" y="62" width="1" height="1" fill="#8c3c80"/><rect x="12" y="62" width="1" height="1" fill="#94448a"/><rect x="13" y="62" width="1" height="1" fill="#9e4c8c"/><rect x="14" y="62" width="1" height="1" fill="#a4528e"/><rect x="15" y="62" width="1" height="1" fill="#a3508e"/><rect x="16" y="62" width="4" height="1" fill="#bb3a48"/><rect x="20" y="62" width="1" height="1" fill="#a04c8c"/><rect x="21" y="62" width="1" height="1" fill="#9c4888"/><rect x="22" y="62" width="1" height="1" fill="#8e3c80"/><rect x="23" y="62" width="2" height="1" fill="#86347a"/><rect x="11" y="63" width="1" height="1" fill="#8c3c80"/><rect x="12" y="63" width="1" height="1" fill="#94448a"/><rect x="13" y="63" width="1" height="1" fill="#9e4c8c"/><rect x="14" y="63" width="1" height="1" fill="#a4528e"/><rect x="15" y="63" width="1" height="1" fill="#a3508e"/><rect x="16" y="63" width="1" height="1" fill="#a04c8c"/><rect x="17" y="63" width="1" height="1" fill="#9c4888"/><rect x="18" y="63" width="2" height="1" fill="#9a4686"/><rect x="20" y="63" width="1" height="1" fill="#a04c8c"/><rect x="21" y="63" width="1" height="1" fill="#9c4888"/><rect x="22" y="63" width="1" height="1" fill="#8c3a7e"/><rect x="23" y="63" width="2" height="1" fill="#86347a"/><rect x="11" y="64" width="1" height="1" fill="#8c3c80"/><rect x="12" y="64" width="1" height="1" fill="#94448a"/><rect x="13" y="64" width="1" height="1" fill="#9e4c8c"/><rect x="14" y="64" width="1" height="1" fill="#a4528e"/><rect x="15" y="64" width="1" height="1" fill="#a3508e"/><rect x="16" y="64" width="1" height="1" fill="#a04c8c"/><rect x="17" y="64" width="1" height="1" fill="#9c4888"/><rect x="18" y="64" width="2" height="1" fill="#9a4686"/><rect x="20" y="64" width="1" height="1" fill="#a04c8c"/><rect x="21" y="64" width="1" height="1" fill="#9c4888"/><rect x="22" y="64" width="1" height="1" fill="#8c3a7e"/><rect x="23" y="64" width="2" height="1" fill="#86347a"/><rect x="12" y="65" width="1" height="1" fill="#94448a"/><rect x="13" y="65" width="1" height="1" fill="#9e4c8c"/><rect x="14" y="65" width="1" height="1" fill="#a4528e"/><rect x="15" y="65" width="1" height="1" fill="#a3508e"/><rect x="16" y="65" width="1" height="1" fill="#a04c8c"/><rect x="17" y="65" width="1" height="1" fill="#9c4888"/><rect x="18" y="65" width="2" height="1" fill="#9a4686"/><rect x="20" y="65" width="1" height="1" fill="#a04c8c"/><rect x="21" y="65" width="1" height="1" fill="#9c4888"/><rect x="22" y="65" width="1" height="1" fill="#8c3a7e"/><rect x="23" y="65" width="2" height="1" fill="#86347a"/><rect x="12" y="66" width="1" height="1" fill="#94448a"/><rect x="13" y="66" width="1" height="1" fill="#9e4c8c"/><rect x="14" y="66" width="1" height="1" fill="#a4528e"/><rect x="15" y="66" width="1" height="1" fill="#a3508e"/><rect x="16" y="66" width="1" height="1" fill="#a04c8c"/><rect x="17" y="66" width="1" height="1" fill="#9c4888"/><rect x="18" y="66" width="2" height="1" fill="#9a4686"/><rect x="20" y="66" width="1" height="1" fill="#a04c8c"/><rect x="21" y="66" width="1" height="1" fill="#9c4888"/><rect x="22" y="66" width="1" height="1" fill="#8c3a7e"/><rect x="23" y="66" width="2" height="1" fill="#86347a"/></svg><div style="position:absolute;left:0;top:0;right:0;bottom:0;box-shadow:inset 0 0 0 1px rgba(0,0,0,0.18)"></div></div>
<div style="position:absolute;left:1730px;top:53px;width:442px;height:1214.6px;overflow:hidden"><svg style="position:absolute;left:-18.417px;top:-18.403px;width:478.833px;height:1251.406px;filter:blur(0.75px)" viewBox="-1 -1 26 68" preserveAspectRatio="none" shape-rendering="crispEdges"><rect x="-1" y="-1" width="26" height="68" fill="#be1a4a"/><rect x="-1" y="-1" width="2" height="1" fill="#6a169c"/><rect x="1" y="-1" width="3" height="1" fill="#6e1e9c"/><rect x="4" y="-1" width="1" height="1" fill="#7222a0"/><rect x="5" y="-1" width="1" height="1" fill="#7828a2"/><rect x="6" y="-1" width="1" height="1" fill="#7222a0"/><rect x="7" y="-1" width="2" height="1" fill="#6e1e9c"/><rect x="9" y="-1" width="3" height="1" fill="#7222a0"/><rect x="12" y="-1" width="1" height="1" fill="#6e1e9c"/><rect x="13" y="-1" width="1" height="1" fill="#9b4a9e"/><rect x="14" y="-1" width="1" height="1" fill="#b95f9c"/><rect x="15" y="-1" width="1" height="1" fill="#c44474"/><rect x="16" y="-1" width="1" height="1" fill="#c3305a"/><rect x="17" y="-1" width="1" height="1" fill="#c02052"/><rect x="19" y="-1" width="1" height="1" fill="#c01444"/><rect x="20" y="-1" width="5" height="1" fill="#c21446"/><rect x="-1" y="0" width="2" height="1" fill="#6a169c"/><rect x="1" y="0" width="3" height="1" fill="#6e1e9c"/><rect x="4" y="0" width="1" height="1" fill="#7222a0"/><rect x="5" y="0" width="1" height="1" fill="#7828a2"/><rect x="6" y="0" width="1" height="1" fill="#7222a0"/><rect x="7" y="0" width="2" height="1" fill="#6e1e9c"/><rect x="9" y="0" width="3" height="1" fill="#7222a0"/><rect x="12" y="0" width="1" height="1" fill="#6e1e9c"/><rect x="13" y="0" width="1" height="1" fill="#9b4a9e"/><rect x="14" y="0" width="1" height="1" fill="#b95f9c"/><rect x="15" y="0" width="1" height="1" fill="#c44474"/><rect x="16" y="0" width="1" height="1" fill="#c3305a"/><rect x="17" y="0" width="1" height="1" fill="#c02052"/><rect x="19" y="0" width="1" height="1" fill="#c01444"/><rect x="20" y="0" width="5" height="1" fill="#c21446"/><rect x="-1" y="1" width="3" height="1" fill="#6e1e9c"/><rect x="2" y="1" width="10" height="1" fill="#7222a0"/><rect x="12" y="1" width="1" height="1" fill="#7828a2"/><rect x="13" y="1" width="1" height="1" fill="#9b4a9e"/><rect x="14" y="1" width="1" height="1" fill="#b95f9c"/><rect x="15" y="1" width="1" height="1" fill="#c44474"/><rect x="16" y="1" width="1" height="1" fill="#c3305a"/><rect x="17" y="1" width="1" height="1" fill="#c02052"/><rect x="19" y="1" width="1" height="1" fill="#c01444"/><rect x="20" y="1" width="5" height="1" fill="#c21446"/><rect x="-1" y="2" width="2" height="1" fill="#6e1e9c"/><rect x="1" y="2" width="1" height="1" fill="#7222a0"/><rect x="2" y="2" width="2" height="1" fill="#7828a2"/><rect x="4" y="2" width="2" height="1" fill="#6a169c"/><rect x="6" y="2" width="1" height="1" fill="#7222a0"/><rect x="7" y="2" width="2" height="1" fill="#7828a2"/><rect x="9" y="2" width="1" height="1" fill="#7222a0"/><rect x="10" y="2" width="1" height="1" fill="#6e1e9c"/><rect x="11" y="2" width="1" height="1" fill="#7222a0"/><rect x="12" y="2" width="1" height="1" fill="#7e2ea4"/><rect x="13" y="2" width="1" height="1" fill="#9b4a9e"/><rect x="14" y="2" width="1" height="1" fill="#b95f9c"/><rect x="15" y="2" width="1" height="1" fill="#c44474"/><rect x="16" y="2" width="1" height="1" fill="#c3305a"/><rect x="17" y="2" width="1" height="1" fill="#c02052"/><rect x="19" y="2" width="1" height="1" fill="#c01444"/><rect x="20" y="2" width="5" height="1" fill="#c21446"/><rect x="-1" y="3" width="2" height="1" fill="#6e1e9c"/><rect x="1" y="3" width="1" height="1" fill="#7222a0"/><rect x="2" y="3" width="2" height="1" fill="#7828a2"/><rect x="4" y="3" width="2" height="1" fill="#6a169c"/><rect x="6" y="3" width="1" height="1" fill="#7222a0"/><rect x="7" y="3" width="2" height="1" fill="#7828a2"/><rect x="9" y="3" width="1" height="1" fill="#7222a0"/><rect x="10" y="3" width="1" height="1" fill="#6a169c"/><rect x="11" y="3" width="1" height="1" fill="#7222a0"/><rect x="12" y="3" width="1" height="1" fill="#7e2ea4"/><rect x="13" y="3" width="1" height="1" fill="#9b4a9e"/><rect x="14" y="3" width="1" height="1" fill="#b95f9c"/><rect x="15" y="3" width="1" height="1" fill="#c44474"/><rect x="16" y="3" width="1" height="1" fill="#c3305a"/><rect x="17" y="3" width="1" height="1" fill="#c02052"/><rect x="19" y="3" width="1" height="1" fill="#c01444"/><rect x="20" y="3" width="5" height="1" fill="#c21446"/><rect x="-1" y="4" width="3" height="1" fill="#6e1e9c"/><rect x="2" y="4" width="2" height="1" fill="#7222a0"/><rect x="4" y="4" width="1" height="1" fill="#6e1e9c"/><rect x="5" y="4" width="1" height="1" fill="#7222a0"/><rect x="6" y="4" width="2" height="1" fill="#7e2ea4"/><rect x="8" y="4" width="1" height="1" fill="#7828a2"/><rect x="9" y="4" width="1" height="1" fill="#7222a0"/><rect x="10" y="4" width="1" height="1" fill="#6a169c"/><rect x="11" y="4" width="1" height="1" fill="#7222a0"/><rect x="12" y="4" width="1" height="1" fill="#8838a6"/><rect x="13" y="4" width="1" height="1" fill="#9b4a9e"/><rect x="14" y="4" width="1" height="1" fill="#b95f9c"/><rect x="15" y="4" width="1" height="1" fill="#c44474"/><rect x="16" y="4" width="1" height="1" fill="#c3305a"/><rect x="17" y="4" width="1" height="1" fill="#c02052"/><rect x="19" y="4" width="1" height="1" fill="#c01444"/><rect x="20" y="4" width="5" height="1" fill="#c01042"/><rect x="-1" y="5" width="3" height="1" fill="#6e1e9c"/><rect x="2" y="5" width="4" height="1" fill="#7222a0"/><rect x="6" y="5" width="2" height="1" fill="#7e2ea4"/><rect x="8" y="5" width="1" height="1" fill="#7828a2"/><rect x="9" y="5" width="1" height="1" fill="#7222a0"/><rect x="10" y="5" width="1" height="1" fill="#6e1e9c"/><rect x="11" y="5" width="1" height="1" fill="#7222a0"/><rect x="12" y="5" width="1" height="1" fill="#8838a6"/><rect x="13" y="5" width="1" height="1" fill="#9b4a9e"/><rect x="14" y="5" width="1" height="1" fill="#b95f9c"/><rect x="15" y="5" width="1" height="1" fill="#c44474"/><rect x="16" y="5" width="1" height="1" fill="#c3305a"/><rect x="17" y="5" width="1" height="1" fill="#c02052"/><rect x="19" y="5" width="1" height="1" fill="#c01444"/><rect x="20" y="5" width="5" height="1" fill="#c01042"/><rect x="-1" y="6" width="5" height="1" fill="#6e1e9c"/><rect x="4" y="6" width="2" height="1" fill="#6a169c"/><rect x="6" y="6" width="1" height="1" fill="#6e1e9c"/><rect x="7" y="6" width="1" height="1" fill="#7222a0"/><rect x="8" y="6" width="1" height="1" fill="#7e2ea4"/><rect x="9" y="6" width="1" height="1" fill="#7828a2"/><rect x="10" y="6" width="2" height="1" fill="#7222a0"/><rect x="12" y="6" width="1" height="1" fill="#7e2ea4"/><rect x="13" y="6" width="1" height="1" fill="#9b4a9e"/><rect x="14" y="6" width="1" height="1" fill="#b95f9c"/><rect x="15" y="6" width="1" height="1" fill="#c44474"/><rect x="16" y="6" width="1" height="1" fill="#c3305a"/><rect x="17" y="6" width="1" height="1" fill="#c02052"/><rect x="19" y="6" width="1" height="1" fill="#c01444"/><rect x="20" y="6" width="5" height="1" fill="#c01042"/><rect x="-1" y="7" width="4" height="1" fill="#6e1e9c"/><rect x="3" y="7" width="3" height="1" fill="#6a169c"/><rect x="6" y="7" width="1" height="1" fill="#6e1e9c"/><rect x="7" y="7" width="1" height="1" fill="#7222a0"/><rect x="8" y="7" width="1" height="1" fill="#7e2ea4"/><rect x="9" y="7" width="1" height="1" fill="#7828a2"/><rect x="10" y="7" width="2" height="1" fill="#7222a0"/><rect x="12" y="7" width="1" height="1" fill="#7e2ea4"/><rect x="13" y="7" width="1" height="1" fill="#9b4a9e"/><rect x="14" y="7" width="1" height="1" fill="#b95f9c"/><rect x="15" y="7" width="1" height="1" fill="#c44474"/><rect x="16" y="7" width="1" height="1" fill="#c3305a"/><rect x="17" y="7" width="1" height="1" fill="#c02052"/><rect x="19" y="7" width="1" height="1" fill="#c01444"/><rect x="20" y="7" width="5" height="1" fill="#c01042"/><rect x="-1" y="8" width="7" height="1" fill="#6e1e9c"/><rect x="6" y="8" width="2" height="1" fill="#7222a0"/><rect x="8" y="8" width="1" height="1" fill="#7828a2"/><rect x="9" y="8" width="1" height="1" fill="#7222a0"/><rect x="10" y="8" width="2" height="1" fill="#6a169c"/><rect x="12" y="8" width="1" height="1" fill="#7828a2"/><rect x="13" y="8" width="1" height="1" fill="#9b4a9e"/><rect x="14" y="8" width="1" height="1" fill="#b95f9c"/><rect x="15" y="8" width="1" height="1" fill="#c44474"/><rect x="16" y="8" width="1" height="1" fill="#c3305a"/><rect x="17" y="8" width="1" height="1" fill="#c02052"/><rect x="19" y="8" width="1" height="1" fill="#c01444"/><rect x="20" y="8" width="5" height="1" fill="#c01042"/><rect x="-1" y="9" width="2" height="1" fill="#6e1e9c"/><rect x="1" y="9" width="2" height="1" fill="#6a169c"/><rect x="3" y="9" width="4" height="1" fill="#6e1e9c"/><rect x="7" y="9" width="3" height="1" fill="#7222a0"/><rect x="10" y="9" width="1" height="1" fill="#6e1e9c"/><rect x="11" y="9" width="2" height="1" fill="#6a169c"/><rect x="13" y="9" width="1" height="1" fill="#9b4a9e"/><rect x="14" y="9" width="1" height="1" fill="#b95f9c"/><rect x="15" y="9" width="1" height="1" fill="#c44474"/><rect x="16" y="9" width="1" height="1" fill="#c3305a"/><rect x="17" y="9" width="1" height="1" fill="#c02052"/><rect x="19" y="9" width="1" height="1" fill="#c01444"/><rect x="20" y="9" width="5" height="1" fill="#c01042"/><rect x="-1" y="10" width="5" height="1" fill="#6a169c"/><rect x="4" y="10" width="2" height="1" fill="#6e1e9c"/><rect x="6" y="10" width="2" height="1" fill="#7222a0"/><rect x="8" y="10" width="4" height="1" fill="#7828a2"/><rect x="12" y="10" width="1" height="1" fill="#7222a0"/><rect x="13" y="10" width="1" height="1" fill="#9b4a9e"/><rect x="14" y="10" width="1" height="1" fill="#b95f9c"/><rect x="15" y="10" width="1" height="1" fill="#c44474"/><rect x="16" y="10" width="1" height="1" fill="#c3305a"/><rect x="17" y="10" width="1" height="1" fill="#c02052"/><rect x="19" y="10" width="1" height="1" fill="#c01444"/><rect x="20" y="10" width="5" height="1" fill="#c01042"/><rect x="-1" y="11" width="3" height="1" fill="#6a169c"/><rect x="2" y="11" width="1" height="1" fill="#5e0c98"/><rect x="3" y="11" width="1" height="1" fill="#6a169c"/><rect x="4" y="11" width="4" height="1" fill="#7222a0"/><rect x="8" y="11" width="3" height="1" fill="#7828a2"/><rect x="11" y="11" width="1" height="1" fill="#7222a0"/><rect x="12" y="11" width="1" height="1" fill="#6e1e9c"/><rect x="13" y="11" width="1" height="1" fill="#9b4a9e"/><rect x="14" y="11" width="1" height="1" fill="#b95f9c"/><rect x="15" y="11" width="1" height="1" fill="#c44474"/><rect x="16" y="11" width="1" height="1" fill="#c3305a"/><rect x="17" y="11" width="1" height="1" fill="#c02052"/><rect x="19" y="11" width="1" height="1" fill="#c01444"/><rect x="20" y="11" width="5" height="1" fill="#c01042"/><rect x="-1" y="12" width="3" height="1" fill="#6a169c"/><rect x="2" y="12" width="1" height="1" fill="#5e0c98"/><rect x="3" y="12" width="1" height="1" fill="#6a169c"/><rect x="4" y="12" width="1" height="1" fill="#7222a0"/><rect x="5" y="12" width="1" height="1" fill="#7828a2"/><rect x="6" y="12" width="1" height="1" fill="#7222a0"/><rect x="7" y="12" width="2" height="1" fill="#7828a2"/><rect x="9" y="12" width="2" height="1" fill="#7e2ea4"/><rect x="11" y="12" width="1" height="1" fill="#7828a2"/><rect x="12" y="12" width="1" height="1" fill="#7222a0"/><rect x="13" y="12" width="1" height="1" fill="#9b4a9e"/><rect x="14" y="12" width="1" height="1" fill="#b95f9c"/><rect x="15" y="12" width="1" height="1" fill="#c44474"/><rect x="16" y="12" width="1" height="1" fill="#c3305a"/><rect x="17" y="12" width="1" height="1" fill="#c02052"/><rect x="19" y="12" width="1" height="1" fill="#c01444"/><rect x="20" y="12" width="5" height="1" fill="#c01042"/><rect x="-1" y="13" width="2" height="1" fill="#6a169c"/><rect x="1" y="13" width="3" height="1" fill="#6e1e9c"/><rect x="4" y="13" width="1" height="1" fill="#7222a0"/><rect x="5" y="13" width="5" height="1" fill="#7828a2"/><rect x="10" y="13" width="2" height="1" fill="#7222a0"/><rect x="12" y="13" width="1" height="1" fill="#7828a2"/><rect x="13" y="13" width="1" height="1" fill="#9b4a9e"/><rect x="14" y="13" width="1" height="1" fill="#b95f9c"/><rect x="15" y="13" width="1" height="1" fill="#c44474"/><rect x="16" y="13" width="1" height="1" fill="#c3305a"/><rect x="17" y="13" width="1" height="1" fill="#c02052"/><rect x="19" y="13" width="1" height="1" fill="#c01444"/><rect x="20" y="13" width="5" height="1" fill="#c01042"/><rect x="-1" y="14" width="2" height="1" fill="#6a169c"/><rect x="1" y="14" width="2" height="1" fill="#6e1e9c"/><rect x="3" y="14" width="1" height="1" fill="#7222a0"/><rect x="4" y="14" width="3" height="1" fill="#7828a2"/><rect x="7" y="14" width="1" height="1" fill="#7e2ea4"/><rect x="8" y="14" width="2" height="1" fill="#7828a2"/><rect x="10" y="14" width="1" height="1" fill="#7222a0"/><rect x="11" y="14" width="1" height="1" fill="#7828a2"/><rect x="12" y="14" width="1" height="1" fill="#8838a6"/><rect x="13" y="14" width="1" height="1" fill="#a856a4"/><rect x="14" y="14" width="1" height="1" fill="#c24e84"/><rect x="15" y="14" width="1" height="1" fill="#c23e68"/><rect x="16" y="14" width="1" height="1" fill="#c42a58"/><rect x="17" y="14" width="1" height="1" fill="#c02052"/><rect x="19" y="14" width="1" height="1" fill="#c01444"/><rect x="20" y="14" width="5" height="1" fill="#c01042"/><rect x="-1" y="15" width="2" height="1" fill="#5e0c98"/><rect x="1" y="15" width="1" height="1" fill="#6a169c"/><rect x="2" y="15" width="1" height="1" fill="#6e1e9c"/><rect x="3" y="15" width="1" height="1" fill="#7222a0"/><rect x="4" y="15" width="3" height="1" fill="#7828a2"/><rect x="7" y="15" width="1" height="1" fill="#7e2ea4"/><rect x="8" y="15" width="4" height="1" fill="#7828a2"/><rect x="12" y="15" width="1" height="1" fill="#8838a6"/><rect x="13" y="15" width="1" height="1" fill="#a856a4"/><rect x="14" y="15" width="1" height="1" fill="#c24e84"/><rect x="15" y="15" width="1" height="1" fill="#c23e68"/><rect x="16" y="15" width="1" height="1" fill="#c42a58"/><rect x="17" y="15" width="1" height="1" fill="#c02052"/><rect x="19" y="15" width="1" height="1" fill="#c01444"/><rect x="20" y="15" width="5" height="1" fill="#c01042"/><rect x="-1" y="16" width="4" height="1" fill="#6e1e9c"/><rect x="3" y="16" width="2" height="1" fill="#7222a0"/><rect x="5" y="16" width="7" height="1" fill="#7828a2"/><rect x="12" y="16" width="1" height="1" fill="#8838a6"/><rect x="13" y="16" width="1" height="1" fill="#a856a4"/><rect x="14" y="16" width="1" height="1" fill="#c24e84"/><rect x="15" y="16" width="1" height="1" fill="#c23e68"/><rect x="16" y="16" width="1" height="1" fill="#c42a58"/><rect x="17" y="16" width="1" height="1" fill="#c02052"/><rect x="19" y="16" width="1" height="1" fill="#c01444"/><rect x="20" y="16" width="5" height="1" fill="#c01042"/><rect x="-1" y="17" width="3" height="1" fill="#6e1e9c"/><rect x="2" y="17" width="2" height="1" fill="#7222a0"/><rect x="4" y="17" width="3" height="1" fill="#6e1e9c"/><rect x="7" y="17" width="1" height="1" fill="#7222a0"/><rect x="8" y="17" width="3" height="1" fill="#7828a2"/><rect x="11" y="17" width="1" height="1" fill="#7e2ea4"/><rect x="12" y="17" width="1" height="1" fill="#8838a6"/><rect x="13" y="17" width="1" height="1" fill="#a856a4"/><rect x="14" y="17" width="1" height="1" fill="#c24e84"/><rect x="15" y="17" width="1" height="1" fill="#c23e68"/><rect x="16" y="17" width="1" height="1" fill="#c42a58"/><rect x="17" y="17" width="1" height="1" fill="#c02052"/><rect x="-1" y="18" width="3" height="1" fill="#6e1e9c"/><rect x="2" y="18" width="1" height="1" fill="#7222a0"/><rect x="3" y="18" width="1" height="1" fill="#6e1e9c"/><rect x="4" y="18" width="2" height="1" fill="#6a169c"/><rect x="6" y="18" width="1" height="1" fill="#6e1e9c"/><rect x="7" y="18" width="1" height="1" fill="#7222a0"/><rect x="8" y="18" width="3" height="1" fill="#7828a2"/><rect x="11" y="18" width="1" height="1" fill="#7e2ea4"/><rect x="12" y="18" width="1" height="1" fill="#8838a6"/><rect x="13" y="18" width="1" height="1" fill="#b95f9c"/><rect x="14" y="18" width="1" height="1" fill="#c44878"/><rect x="15" y="18" width="1" height="1" fill="#c43c68"/><rect x="16" y="18" width="1" height="1" fill="#c22e5c"/><rect x="17" y="18" width="1" height="1" fill="#c02456"/><rect x="18" y="18" width="1" height="1" fill="#be1e50"/><rect x="-1" y="19" width="3" height="1" fill="#7828a2"/><rect x="2" y="19" width="3" height="1" fill="#6e1e9c"/><rect x="5" y="19" width="1" height="1" fill="#6a169c"/><rect x="6" y="19" width="2" height="1" fill="#6e1e9c"/><rect x="8" y="19" width="1" height="1" fill="#7222a0"/><rect x="9" y="19" width="2" height="1" fill="#7828a2"/><rect x="11" y="19" width="1" height="1" fill="#7e2ea4"/><rect x="12" y="19" width="1" height="1" fill="#8838a6"/><rect x="13" y="19" width="1" height="1" fill="#b95f9c"/><rect x="14" y="19" width="1" height="1" fill="#c44878"/><rect x="15" y="19" width="1" height="1" fill="#c43c68"/><rect x="16" y="19" width="1" height="1" fill="#c22e5c"/><rect x="17" y="19" width="1" height="1" fill="#c02456"/><rect x="18" y="19" width="1" height="1" fill="#be1e50"/><rect x="-1" y="20" width="3" height="1" fill="#7828a2"/><rect x="2" y="20" width="1" height="1" fill="#7222a0"/><rect x="3" y="20" width="3" height="1" fill="#6e1e9c"/><rect x="6" y="20" width="1" height="1" fill="#6a169c"/><rect x="7" y="20" width="1" height="1" fill="#6e1e9c"/><rect x="8" y="20" width="1" height="1" fill="#7222a0"/><rect x="9" y="20" width="2" height="1" fill="#7828a2"/><rect x="11" y="20" width="1" height="1" fill="#7e2ea4"/><rect x="12" y="20" width="1" height="1" fill="#8838a6"/><rect x="13" y="20" width="1" height="1" fill="#b95f9c"/><rect x="14" y="20" width="1" height="1" fill="#c44878"/><rect x="15" y="20" width="1" height="1" fill="#c43c68"/><rect x="16" y="20" width="1" height="1" fill="#c22e5c"/><rect x="17" y="20" width="1" height="1" fill="#c02456"/><rect x="18" y="20" width="1" height="1" fill="#be1e50"/><rect x="-1" y="21" width="6" height="1" fill="#6e1e9c"/><rect x="5" y="21" width="1" height="1" fill="#6a169c"/><rect x="6" y="21" width="1" height="1" fill="#7222a0"/><rect x="7" y="21" width="2" height="1" fill="#7828a2"/><rect x="9" y="21" width="3" height="1" fill="#7e2ea4"/><rect x="12" y="21" width="1" height="1" fill="#8838a6"/><rect x="13" y="21" width="1" height="1" fill="#b95f9c"/><rect x="14" y="21" width="1" height="1" fill="#c44878"/><rect x="15" y="21" width="1" height="1" fill="#c43c68"/><rect x="16" y="21" width="1" height="1" fill="#c22e5c"/><rect x="17" y="21" width="1" height="1" fill="#c02456"/><rect x="18" y="21" width="1" height="1" fill="#be1e50"/><rect x="-1" y="22" width="4" height="1" fill="#6e1e9c"/><rect x="3" y="22" width="3" height="1" fill="#6a169c"/><rect x="6" y="22" width="1" height="1" fill="#7222a0"/><rect x="7" y="22" width="3" height="1" fill="#7828a2"/><rect x="10" y="22" width="2" height="1" fill="#7e2ea4"/><rect x="12" y="22" width="1" height="1" fill="#8838a6"/><rect x="13" y="22" width="1" height="1" fill="#b95f9c"/><rect x="14" y="22" width="1" height="1" fill="#c44878"/><rect x="15" y="22" width="1" height="1" fill="#c43c68"/><rect x="16" y="22" width="1" height="1" fill="#c22e5c"/><rect x="17" y="22" width="1" height="1" fill="#c02456"/><rect x="18" y="22" width="1" height="1" fill="#be1e50"/><rect x="-1" y="23" width="2" height="1" fill="#6e1e9c"/><rect x="1" y="23" width="1" height="1" fill="#7222a0"/><rect x="2" y="23" width="2" height="1" fill="#7828a2"/><rect x="4" y="23" width="1" height="1" fill="#6e1e9c"/><rect x="5" y="23" width="1" height="1" fill="#6a169c"/><rect x="6" y="23" width="1" height="1" fill="#7222a0"/><rect x="7" y="23" width="2" height="1" fill="#7828a2"/><rect x="9" y="23" width="3" height="1" fill="#7e2ea4"/><rect x="12" y="23" width="1" height="1" fill="#8838a6"/><rect x="13" y="23" width="1" height="1" fill="#b95f9c"/><rect x="14" y="23" width="1" height="1" fill="#c44878"/><rect x="15" y="23" width="1" height="1" fill="#c43c68"/><rect x="16" y="23" width="1" height="1" fill="#c22e5c"/><rect x="17" y="23" width="1" height="1" fill="#c02456"/><rect x="18" y="23" width="1" height="1" fill="#be1e50"/><rect x="-1" y="24" width="2" height="1" fill="#6e1e9c"/><rect x="1" y="24" width="1" height="1" fill="#7222a0"/><rect x="2" y="24" width="2" height="1" fill="#7828a2"/><rect x="4" y="24" width="1" height="1" fill="#6e1e9c"/><rect x="5" y="24" width="1" height="1" fill="#6a169c"/><rect x="6" y="24" width="1" height="1" fill="#7222a0"/><rect x="7" y="24" width="1" height="1" fill="#7828a2"/><rect x="8" y="24" width="4" height="1" fill="#7e2ea4"/><rect x="12" y="24" width="1" height="1" fill="#8838a6"/><rect x="13" y="24" width="1" height="1" fill="#b95f9c"/><rect x="14" y="24" width="1" height="1" fill="#c44878"/><rect x="15" y="24" width="1" height="1" fill="#c43c68"/><rect x="16" y="24" width="1" height="1" fill="#c22e5c"/><rect x="17" y="24" width="1" height="1" fill="#c02456"/><rect x="18" y="24" width="1" height="1" fill="#be1e50"/><rect x="-1" y="25" width="6" height="1" fill="#6e1e9c"/><rect x="5" y="25" width="1" height="1" fill="#6a169c"/><rect x="6" y="25" width="1" height="1" fill="#6e1e9c"/><rect x="7" y="25" width="1" height="1" fill="#7828a2"/><rect x="8" y="25" width="1" height="1" fill="#7e2ea4"/><rect x="9" y="25" width="2" height="1" fill="#7828a2"/><rect x="11" y="25" width="1" height="1" fill="#8e3ea6"/><rect x="12" y="25" width="1" height="1" fill="#b95f9c"/><rect x="13" y="25" width="1" height="1" fill="#c44878"/><rect x="14" y="25" width="1" height="1" fill="#c43c68"/><rect x="15" y="25" width="1" height="1" fill="#c22e5c"/><rect x="16" y="25" width="1" height="1" fill="#c02456"/><rect x="17" y="25" width="1" height="1" fill="#be1e50"/><rect x="-1" y="26" width="4" height="1" fill="#6e1e9c"/><rect x="3" y="26" width="3" height="1" fill="#6a169c"/><rect x="6" y="26" width="1" height="1" fill="#6e1e9c"/><rect x="7" y="26" width="1" height="1" fill="#7222a0"/><rect x="8" y="26" width="3" height="1" fill="#7828a2"/><rect x="11" y="26" width="1" height="1" fill="#8e3ea6"/><rect x="12" y="26" width="1" height="1" fill="#b95f9c"/><rect x="13" y="26" width="1" height="1" fill="#c44878"/><rect x="14" y="26" width="1" height="1" fill="#c43c68"/><rect x="15" y="26" width="1" height="1" fill="#c22e5c"/><rect x="16" y="26" width="1" height="1" fill="#c02456"/><rect x="17" y="26" width="1" height="1" fill="#be1e50"/><rect x="-1" y="27" width="7" height="1" fill="#6a169c"/><rect x="6" y="27" width="2" height="1" fill="#6e1e9c"/><rect x="8" y="27" width="2" height="1" fill="#7222a0"/><rect x="10" y="27" width="1" height="1" fill="#7828a2"/><rect x="11" y="27" width="1" height="1" fill="#8e3ea6"/><rect x="12" y="27" width="1" height="1" fill="#b95f9c"/><rect x="13" y="27" width="1" height="1" fill="#c44878"/><rect x="14" y="27" width="1" height="1" fill="#c43c68"/><rect x="15" y="27" width="1" height="1" fill="#c22e5c"/><rect x="16" y="27" width="1" height="1" fill="#c02456"/><rect x="17" y="27" width="1" height="1" fill="#be1e50"/><rect x="-1" y="28" width="8" height="1" fill="#5e0c98"/><rect x="7" y="28" width="1" height="1" fill="#6a169c"/><rect x="8" y="28" width="3" height="1" fill="#6e1e9c"/><rect x="11" y="28" width="1" height="1" fill="#8e3ea6"/><rect x="12" y="28" width="1" height="1" fill="#b95f9c"/><rect x="13" y="28" width="1" height="1" fill="#c44878"/><rect x="14" y="28" width="1" height="1" fill="#c43c68"/><rect x="15" y="28" width="1" height="1" fill="#c22e5c"/><rect x="16" y="28" width="1" height="1" fill="#c02456"/><rect x="17" y="28" width="1" height="1" fill="#be1e50"/><rect x="-1" y="29" width="8" height="1" fill="#5e0c98"/><rect x="7" y="29" width="1" height="1" fill="#6a169c"/><rect x="8" y="29" width="3" height="1" fill="#6e1e9c"/><rect x="11" y="29" width="1" height="1" fill="#8e3ea6"/><rect x="12" y="29" width="1" height="1" fill="#b95f9c"/><rect x="13" y="29" width="1" height="1" fill="#c44878"/><rect x="14" y="29" width="1" height="1" fill="#c43c68"/><rect x="15" y="29" width="1" height="1" fill="#c22e5c"/><rect x="16" y="29" width="1" height="1" fill="#c02456"/><rect x="17" y="29" width="1" height="1" fill="#be1e50"/><rect x="-1" y="30" width="7" height="1" fill="#6a169c"/><rect x="6" y="30" width="4" height="1" fill="#6e1e9c"/><rect x="10" y="30" width="1" height="1" fill="#5e0c98"/><rect x="11" y="30" width="1" height="1" fill="#8e3ea6"/><rect x="12" y="30" width="1" height="1" fill="#b95f9c"/><rect x="13" y="30" width="1" height="1" fill="#c44878"/><rect x="14" y="30" width="1" height="1" fill="#c43c68"/><rect x="15" y="30" width="1" height="1" fill="#c22e5c"/><rect x="16" y="30" width="1" height="1" fill="#c02456"/><rect x="17" y="30" width="1" height="1" fill="#be1e50"/><rect x="-1" y="31" width="2" height="1" fill="#6a169c"/><rect x="1" y="31" width="2" height="1" fill="#6e1e9c"/><rect x="3" y="31" width="6" height="1" fill="#7222a0"/><rect x="9" y="31" width="1" height="1" fill="#6e1e9c"/><rect x="10" y="31" width="1" height="1" fill="#6a169c"/><rect x="11" y="31" width="1" height="1" fill="#8e3ea6"/><rect x="12" y="31" width="1" height="1" fill="#b95f9c"/><rect x="13" y="31" width="1" height="1" fill="#c44878"/><rect x="14" y="31" width="1" height="1" fill="#c43c68"/><rect x="15" y="31" width="1" height="1" fill="#c22e5c"/><rect x="16" y="31" width="1" height="1" fill="#c02456"/><rect x="17" y="31" width="1" height="1" fill="#be1e50"/><rect x="-1" y="32" width="3" height="1" fill="#6e1e9c"/><rect x="2" y="32" width="1" height="1" fill="#7222a0"/><rect x="3" y="32" width="3" height="1" fill="#7828a2"/><rect x="6" y="32" width="2" height="1" fill="#7222a0"/><rect x="8" y="32" width="1" height="1" fill="#7828a2"/><rect x="9" y="32" width="2" height="1" fill="#7222a0"/><rect x="11" y="32" width="1" height="1" fill="#8e3ea6"/><rect x="12" y="32" width="1" height="1" fill="#b95f9c"/><rect x="13" y="32" width="1" height="1" fill="#c44878"/><rect x="14" y="32" width="1" height="1" fill="#c43c68"/><rect x="15" y="32" width="1" height="1" fill="#c22e5c"/><rect x="16" y="32" width="1" height="1" fill="#c02456"/><rect x="17" y="32" width="1" height="1" fill="#be1e50"/><rect x="-1" y="33" width="2" height="1" fill="#6e1e9c"/><rect x="1" y="33" width="1" height="1" fill="#7222a0"/><rect x="2" y="33" width="1" height="1" fill="#7828a2"/><rect x="3" y="33" width="2" height="1" fill="#7e2ea4"/><rect x="5" y="33" width="1" height="1" fill="#7828a2"/><rect x="6" y="33" width="2" height="1" fill="#7222a0"/><rect x="8" y="33" width="2" height="1" fill="#7828a2"/><rect x="10" y="33" width="1" height="1" fill="#7222a0"/><rect x="11" y="33" width="1" height="1" fill="#9a48a2"/><rect x="12" y="33" width="1" height="1" fill="#c44878"/><rect x="13" y="33" width="1" height="1" fill="#c43c68"/><rect x="14" y="33" width="1" height="1" fill="#c22e5c"/><rect x="15" y="33" width="1" height="1" fill="#c02456"/><rect x="16" y="33" width="1" height="1" fill="#be1e50"/><rect x="-1" y="34" width="2" height="1" fill="#6e1e9c"/><rect x="1" y="34" width="1" height="1" fill="#7222a0"/><rect x="2" y="34" width="1" height="1" fill="#7828a2"/><rect x="3" y="34" width="2" height="1" fill="#7e2ea4"/><rect x="5" y="34" width="1" height="1" fill="#7828a2"/><rect x="6" y="34" width="2" height="1" fill="#7222a0"/><rect x="8" y="34" width="2" height="1" fill="#7828a2"/><rect x="10" y="34" width="1" height="1" fill="#6e1e9c"/><rect x="11" y="34" width="1" height="1" fill="#9a48a2"/><rect x="12" y="34" width="1" height="1" fill="#c44878"/><rect x="13" y="34" width="1" height="1" fill="#c43c68"/><rect x="14" y="34" width="1" height="1" fill="#c22e5c"/><rect x="15" y="34" width="1" height="1" fill="#c02456"/><rect x="16" y="34" width="1" height="1" fill="#be1e50"/><rect x="-1" y="35" width="2" height="1" fill="#6e1e9c"/><rect x="1" y="35" width="1" height="1" fill="#7222a0"/><rect x="2" y="35" width="3" height="1" fill="#7e2ea4"/><rect x="5" y="35" width="2" height="1" fill="#7828a2"/><rect x="7" y="35" width="2" height="1" fill="#7e2ea4"/><rect x="9" y="35" width="1" height="1" fill="#7828a2"/><rect x="10" y="35" width="1" height="1" fill="#6e1e9c"/><rect x="11" y="35" width="1" height="1" fill="#9a48a2"/><rect x="12" y="35" width="1" height="1" fill="#c44878"/><rect x="13" y="35" width="1" height="1" fill="#c43c68"/><rect x="14" y="35" width="1" height="1" fill="#c22e5c"/><rect x="15" y="35" width="1" height="1" fill="#c02456"/><rect x="16" y="35" width="1" height="1" fill="#be1e50"/><rect x="-1" y="36" width="2" height="1" fill="#6e1e9c"/><rect x="1" y="36" width="1" height="1" fill="#7222a0"/><rect x="2" y="36" width="3" height="1" fill="#7e2ea4"/><rect x="5" y="36" width="2" height="1" fill="#7828a2"/><rect x="7" y="36" width="1" height="1" fill="#7e2ea4"/><rect x="8" y="36" width="1" height="1" fill="#8838a6"/><rect x="9" y="36" width="1" height="1" fill="#7e2ea4"/><rect x="10" y="36" width="1" height="1" fill="#6a169c"/><rect x="11" y="36" width="1" height="1" fill="#9a48a2"/><rect x="12" y="36" width="1" height="1" fill="#c44878"/><rect x="13" y="36" width="1" height="1" fill="#c43c68"/><rect x="14" y="36" width="1" height="1" fill="#c22e5c"/><rect x="15" y="36" width="1" height="1" fill="#c02456"/><rect x="16" y="36" width="1" height="1" fill="#be1e50"/><rect x="-1" y="37" width="2" height="1" fill="#6e1e9c"/><rect x="1" y="37" width="1" height="1" fill="#7222a0"/><rect x="2" y="37" width="3" height="1" fill="#7e2ea4"/><rect x="5" y="37" width="2" height="1" fill="#7828a2"/><rect x="7" y="37" width="1" height="1" fill="#7e2ea4"/><rect x="8" y="37" width="1" height="1" fill="#8838a6"/><rect x="9" y="37" width="1" height="1" fill="#7e2ea4"/><rect x="10" y="37" width="1" height="1" fill="#6a169c"/><rect x="11" y="37" width="1" height="1" fill="#9a48a2"/><rect x="12" y="37" width="1" height="1" fill="#c44878"/><rect x="13" y="37" width="1" height="1" fill="#c43c68"/><rect x="14" y="37" width="1" height="1" fill="#c22e5c"/><rect x="15" y="37" width="1" height="1" fill="#c02456"/><rect x="16" y="37" width="1" height="1" fill="#be1e50"/><rect x="-1" y="38" width="2" height="1" fill="#6e1e9c"/><rect x="1" y="38" width="1" height="1" fill="#7222a0"/><rect x="2" y="38" width="3" height="1" fill="#7828a2"/><rect x="5" y="38" width="2" height="1" fill="#7222a0"/><rect x="7" y="38" width="1" height="1" fill="#7828a2"/><rect x="8" y="38" width="1" height="1" fill="#7e2ea4"/><rect x="9" y="38" width="1" height="1" fill="#7828a2"/><rect x="10" y="38" width="1" height="1" fill="#6e1e9c"/><rect x="11" y="38" width="1" height="1" fill="#9a48a2"/><rect x="12" y="38" width="1" height="1" fill="#c44878"/><rect x="13" y="38" width="1" height="1" fill="#c43c68"/><rect x="14" y="38" width="1" height="1" fill="#c22e5c"/><rect x="15" y="38" width="1" height="1" fill="#c02456"/><rect x="16" y="38" width="1" height="1" fill="#be1e50"/><rect x="-1" y="39" width="2" height="1" fill="#6e1e9c"/><rect x="1" y="39" width="7" height="1" fill="#7222a0"/><rect x="8" y="39" width="2" height="1" fill="#7828a2"/><rect x="10" y="39" width="1" height="1" fill="#7222a0"/><rect x="11" y="39" width="1" height="1" fill="#9a48a2"/><rect x="12" y="39" width="1" height="1" fill="#c44878"/><rect x="13" y="39" width="1" height="1" fill="#c43c68"/><rect x="14" y="39" width="1" height="1" fill="#c22e5c"/><rect x="15" y="39" width="1" height="1" fill="#c02456"/><rect x="16" y="39" width="1" height="1" fill="#be1e50"/><rect x="-1" y="40" width="7" height="1" fill="#6e1e9c"/><rect x="6" y="40" width="2" height="1" fill="#7222a0"/><rect x="8" y="40" width="1" height="1" fill="#6a169c"/><rect x="9" y="40" width="1" height="1" fill="#7222a0"/><rect x="10" y="40" width="1" height="1" fill="#7e2ea4"/><rect x="11" y="40" width="1" height="1" fill="#b95f9c"/><rect x="12" y="40" width="1" height="1" fill="#c44878"/><rect x="13" y="40" width="1" height="1" fill="#c43c68"/><rect x="14" y="40" width="1" height="1" fill="#c22e5c"/><rect x="15" y="40" width="1" height="1" fill="#c02456"/><rect x="16" y="40" width="1" height="1" fill="#be1e50"/><rect x="-1" y="41" width="3" height="1" fill="#6e1e9c"/><rect x="2" y="41" width="1" height="1" fill="#6a169c"/><rect x="3" y="41" width="1" height="1" fill="#5e0c98"/><rect x="4" y="41" width="1" height="1" fill="#6a169c"/><rect x="5" y="41" width="1" height="1" fill="#6e1e9c"/><rect x="6" y="41" width="2" height="1" fill="#7222a0"/><rect x="8" y="41" width="1" height="1" fill="#6a169c"/><rect x="9" y="41" width="1" height="1" fill="#7222a0"/><rect x="10" y="41" width="1" height="1" fill="#7e2ea4"/><rect x="11" y="41" width="1" height="1" fill="#b95f9c"/><rect x="12" y="41" width="1" height="1" fill="#c44878"/><rect x="13" y="41" width="1" height="1" fill="#c43c68"/><rect x="14" y="41" width="1" height="1" fill="#c22e5c"/><rect x="15" y="41" width="1" height="1" fill="#c02456"/><rect x="16" y="41" width="1" height="1" fill="#be1e50"/><rect x="-1" y="42" width="6" height="1" fill="#6e1e9c"/><rect x="5" y="42" width="5" height="1" fill="#7222a0"/><rect x="10" y="42" width="1" height="1" fill="#7e2ea4"/><rect x="11" y="42" width="1" height="1" fill="#b95f9c"/><rect x="12" y="42" width="1" height="1" fill="#c44878"/><rect x="13" y="42" width="1" height="1" fill="#c43c68"/><rect x="14" y="42" width="1" height="1" fill="#c22e5c"/><rect x="15" y="42" width="1" height="1" fill="#c02456"/><rect x="16" y="42" width="1" height="1" fill="#be1e50"/><rect x="-1" y="43" width="5" height="1" fill="#6e1e9c"/><rect x="4" y="43" width="3" height="1" fill="#7222a0"/><rect x="7" y="43" width="2" height="1" fill="#7828a2"/><rect x="9" y="43" width="1" height="1" fill="#7222a0"/><rect x="10" y="43" width="1" height="1" fill="#7e2ea4"/><rect x="11" y="43" width="1" height="1" fill="#b95f9c"/><rect x="12" y="43" width="1" height="1" fill="#c44878"/><rect x="13" y="43" width="1" height="1" fill="#c43c68"/><rect x="14" y="43" width="1" height="1" fill="#c22e5c"/><rect x="15" y="43" width="1" height="1" fill="#c02456"/><rect x="16" y="43" width="1" height="1" fill="#be1e50"/><rect x="-1" y="44" width="2" height="1" fill="#6a169c"/><rect x="1" y="44" width="1" height="1" fill="#6e1e9c"/><rect x="2" y="44" width="4" height="1" fill="#7222a0"/><rect x="6" y="44" width="4" height="1" fill="#7828a2"/><rect x="10" y="44" width="1" height="1" fill="#7e2ea4"/><rect x="11" y="44" width="1" height="1" fill="#b95f9c"/><rect x="12" y="44" width="1" height="1" fill="#c44878"/><rect x="13" y="44" width="1" height="1" fill="#c43c68"/><rect x="14" y="44" width="1" height="1" fill="#c22e5c"/><rect x="15" y="44" width="1" height="1" fill="#c02456"/><rect x="16" y="44" width="1" height="1" fill="#be1e50"/><rect x="-1" y="45" width="2" height="1" fill="#6a169c"/><rect x="1" y="45" width="1" height="1" fill="#6e1e9c"/><rect x="2" y="45" width="2" height="1" fill="#7222a0"/><rect x="4" y="45" width="2" height="1" fill="#7828a2"/><rect x="6" y="45" width="2" height="1" fill="#7e2ea4"/><rect x="8" y="45" width="3" height="1" fill="#7828a2"/><rect x="11" y="45" width="1" height="1" fill="#b95f9c"/><rect x="12" y="45" width="1" height="1" fill="#c44878"/><rect x="13" y="45" width="1" height="1" fill="#c43c68"/><rect x="14" y="45" width="1" height="1" fill="#c22e5c"/><rect x="15" y="45" width="1" height="1" fill="#c02456"/><rect x="16" y="45" width="1" height="1" fill="#be1e50"/><rect x="17" y="45" width="8" height="1" fill="#be1448"/><rect x="-1" y="46" width="2" height="1" fill="#6a169c"/><rect x="1" y="46" width="1" height="1" fill="#6e1e9c"/><rect x="2" y="46" width="4" height="1" fill="#7222a0"/><rect x="6" y="46" width="3" height="1" fill="#7e2ea4"/><rect x="9" y="46" width="2" height="1" fill="#7828a2"/><rect x="11" y="46" width="1" height="1" fill="#b95f9c"/><rect x="12" y="46" width="1" height="1" fill="#c44878"/><rect x="13" y="46" width="1" height="1" fill="#c43c68"/><rect x="14" y="46" width="1" height="1" fill="#c22e5c"/><rect x="15" y="46" width="1" height="1" fill="#c02456"/><rect x="16" y="46" width="1" height="1" fill="#be1e50"/><rect x="17" y="46" width="8" height="1" fill="#be1448"/><rect x="-1" y="47" width="2" height="1" fill="#6a169c"/><rect x="1" y="47" width="1" height="1" fill="#6e1e9c"/><rect x="2" y="47" width="3" height="1" fill="#7222a0"/><rect x="5" y="47" width="2" height="1" fill="#7828a2"/><rect x="7" y="47" width="2" height="1" fill="#7e2ea4"/><rect x="9" y="47" width="2" height="1" fill="#7828a2"/><rect x="11" y="47" width="1" height="1" fill="#b95f9c"/><rect x="12" y="47" width="1" height="1" fill="#c44878"/><rect x="13" y="47" width="1" height="1" fill="#c43c68"/><rect x="14" y="47" width="1" height="1" fill="#c22e5c"/><rect x="15" y="47" width="1" height="1" fill="#c02456"/><rect x="16" y="47" width="1" height="1" fill="#be1e50"/><rect x="17" y="47" width="8" height="1" fill="#be1448"/><rect x="-1" y="48" width="3" height="1" fill="#6e1e9c"/><rect x="2" y="48" width="4" height="1" fill="#7222a0"/><rect x="6" y="48" width="5" height="1" fill="#7828a2"/><rect x="11" y="48" width="1" height="1" fill="#b95f9c"/><rect x="12" y="48" width="1" height="1" fill="#c44878"/><rect x="13" y="48" width="1" height="1" fill="#c43c68"/><rect x="14" y="48" width="1" height="1" fill="#c22e5c"/><rect x="15" y="48" width="1" height="1" fill="#c02456"/><rect x="16" y="48" width="1" height="1" fill="#be1e50"/><rect x="17" y="48" width="8" height="1" fill="#be1448"/><rect x="-1" y="49" width="3" height="1" fill="#6e1e9c"/><rect x="2" y="49" width="2" height="1" fill="#7222a0"/><rect x="4" y="49" width="2" height="1" fill="#6e1e9c"/><rect x="6" y="49" width="1" height="1" fill="#7222a0"/><rect x="7" y="49" width="2" height="1" fill="#7828a2"/><rect x="9" y="49" width="2" height="1" fill="#7e2ea4"/><rect x="11" y="49" width="1" height="1" fill="#b95f9c"/><rect x="12" y="49" width="1" height="1" fill="#c44878"/><rect x="13" y="49" width="1" height="1" fill="#c43c68"/><rect x="14" y="49" width="1" height="1" fill="#c22e5c"/><rect x="15" y="49" width="1" height="1" fill="#c02456"/><rect x="16" y="49" width="1" height="1" fill="#be1e50"/><rect x="17" y="49" width="8" height="1" fill="#be1042"/><rect x="-1" y="50" width="2" height="1" fill="#6e1e9c"/><rect x="1" y="50" width="6" height="1" fill="#7222a0"/><rect x="7" y="50" width="1" height="1" fill="#7828a2"/><rect x="8" y="50" width="1" height="1" fill="#7e2ea4"/><rect x="9" y="50" width="2" height="1" fill="#8838a6"/><rect x="11" y="50" width="1" height="1" fill="#b95f9c"/><rect x="12" y="50" width="1" height="1" fill="#c44878"/><rect x="13" y="50" width="1" height="1" fill="#c43c68"/><rect x="14" y="50" width="1" height="1" fill="#c22e5c"/><rect x="15" y="50" width="1" height="1" fill="#c02456"/><rect x="16" y="50" width="1" height="1" fill="#be1e50"/><rect x="17" y="50" width="8" height="1" fill="#be1042"/><rect x="-1" y="51" width="3" height="1" fill="#6e1e9c"/><rect x="2" y="51" width="2" height="1" fill="#7222a0"/><rect x="4" y="51" width="2" height="1" fill="#7828a2"/><rect x="6" y="51" width="2" height="1" fill="#7e2ea4"/><rect x="8" y="51" width="1" height="1" fill="#7222a0"/><rect x="9" y="51" width="1" height="1" fill="#8838a6"/><rect x="10" y="51" width="1" height="1" fill="#9a48a2"/><rect x="11" y="51" width="1" height="1" fill="#c44a78"/><rect x="12" y="51" width="1" height="1" fill="#c03c64"/><rect x="13" y="51" width="1" height="1" fill="#c02c5a"/><rect x="14" y="51" width="1" height="1" fill="#be2252"/><rect x="15" y="51" width="2" height="1" fill="#be1648"/><rect x="17" y="51" width="8" height="1" fill="#be1042"/><rect x="-1" y="52" width="2" height="1" fill="#6e1e9c"/><rect x="1" y="52" width="1" height="1" fill="#6a169c"/><rect x="2" y="52" width="2" height="1" fill="#7222a0"/><rect x="4" y="52" width="2" height="1" fill="#7828a2"/><rect x="6" y="52" width="1" height="1" fill="#7e2ea4"/><rect x="7" y="52" width="1" height="1" fill="#7828a2"/><rect x="8" y="52" width="1" height="1" fill="#6a169c"/><rect x="9" y="52" width="1" height="1" fill="#8838a6"/><rect x="10" y="52" width="1" height="1" fill="#b95f9c"/><rect x="11" y="52" width="1" height="1" fill="#c44a78"/><rect x="12" y="52" width="1" height="1" fill="#c03c64"/><rect x="13" y="52" width="1" height="1" fill="#c02c5a"/><rect x="14" y="52" width="1" height="1" fill="#be2252"/><rect x="15" y="52" width="2" height="1" fill="#be1648"/><rect x="17" y="52" width="8" height="1" fill="#be1042"/><rect x="-1" y="53" width="3" height="1" fill="#6a169c"/><rect x="2" y="53" width="2" height="1" fill="#7222a0"/><rect x="4" y="53" width="2" height="1" fill="#6a169c"/><rect x="6" y="53" width="2" height="1" fill="#7828a2"/><rect x="8" y="53" width="1" height="1" fill="#6a169c"/><rect x="9" y="53" width="1" height="1" fill="#8838a6"/><rect x="10" y="53" width="1" height="1" fill="#b95f9c"/><rect x="11" y="53" width="1" height="1" fill="#c44a78"/><rect x="12" y="53" width="1" height="1" fill="#c03c64"/><rect x="13" y="53" width="1" height="1" fill="#c02c5a"/><rect x="14" y="53" width="1" height="1" fill="#be2252"/><rect x="15" y="53" width="2" height="1" fill="#be1648"/><rect x="17" y="53" width="8" height="1" fill="#be1042"/><rect x="-1" y="54" width="3" height="1" fill="#6a169c"/><rect x="2" y="54" width="1" height="1" fill="#6e1e9c"/><rect x="3" y="54" width="1" height="1" fill="#7222a0"/><rect x="4" y="54" width="2" height="1" fill="#6a169c"/><rect x="6" y="54" width="2" height="1" fill="#7828a2"/><rect x="8" y="54" width="1" height="1" fill="#6a169c"/><rect x="9" y="54" width="1" height="1" fill="#8838a6"/><rect x="10" y="54" width="1" height="1" fill="#b95f9c"/><rect x="11" y="54" width="1" height="1" fill="#c44a78"/><rect x="12" y="54" width="1" height="1" fill="#c03c64"/><rect x="13" y="54" width="1" height="1" fill="#c02c5a"/><rect x="14" y="54" width="1" height="1" fill="#be2252"/><rect x="15" y="54" width="2" height="1" fill="#be1648"/><rect x="17" y="54" width="8" height="1" fill="#be1042"/><rect x="-1" y="55" width="2" height="1" fill="#5e0c98"/><rect x="1" y="55" width="1" height="1" fill="#6a169c"/><rect x="2" y="55" width="2" height="1" fill="#7222a0"/><rect x="4" y="55" width="2" height="1" fill="#6a169c"/><rect x="6" y="55" width="1" height="1" fill="#7828a2"/><rect x="7" y="55" width="1" height="1" fill="#7222a0"/><rect x="8" y="55" width="1" height="1" fill="#6a169c"/><rect x="9" y="55" width="1" height="1" fill="#8838a6"/><rect x="10" y="55" width="1" height="1" fill="#b95f9c"/><rect x="11" y="55" width="1" height="1" fill="#c44a78"/><rect x="12" y="55" width="1" height="1" fill="#c03c64"/><rect x="13" y="55" width="1" height="1" fill="#c02c5a"/><rect x="14" y="55" width="1" height="1" fill="#be2252"/><rect x="15" y="55" width="2" height="1" fill="#c0184a"/><rect x="17" y="55" width="8" height="1" fill="#be1446"/><rect x="-1" y="56" width="3" height="1" fill="#5e0c98"/><rect x="2" y="56" width="1" height="1" fill="#6a169c"/><rect x="3" y="56" width="2" height="1" fill="#6e1e9c"/><rect x="5" y="56" width="1" height="1" fill="#7222a0"/><rect x="6" y="56" width="2" height="1" fill="#7828a2"/><rect x="8" y="56" width="1" height="1" fill="#6e1e9c"/><rect x="9" y="56" width="1" height="1" fill="#8838a6"/><rect x="10" y="56" width="1" height="1" fill="#b95f9c"/><rect x="11" y="56" width="1" height="1" fill="#c44a78"/><rect x="12" y="56" width="1" height="1" fill="#c03c64"/><rect x="13" y="56" width="1" height="1" fill="#c02c5a"/><rect x="14" y="56" width="1" height="1" fill="#be2252"/><rect x="15" y="56" width="2" height="1" fill="#c0184a"/><rect x="17" y="56" width="8" height="1" fill="#be1446"/><rect x="-1" y="57" width="3" height="1" fill="#5e0c98"/><rect x="2" y="57" width="2" height="1" fill="#6a169c"/><rect x="4" y="57" width="1" height="1" fill="#6e1e9c"/><rect x="5" y="57" width="1" height="1" fill="#7222a0"/><rect x="6" y="57" width="2" height="1" fill="#7828a2"/><rect x="8" y="57" width="1" height="1" fill="#7222a0"/><rect x="9" y="57" width="1" height="1" fill="#8838a6"/><rect x="10" y="57" width="1" height="1" fill="#b95f9c"/><rect x="11" y="57" width="1" height="1" fill="#c44a78"/><rect x="12" y="57" width="1" height="1" fill="#c03c64"/><rect x="13" y="57" width="1" height="1" fill="#c02c5a"/><rect x="14" y="57" width="1" height="1" fill="#be2252"/><rect x="15" y="57" width="2" height="1" fill="#c0184a"/><rect x="17" y="57" width="8" height="1" fill="#be1446"/><rect x="-1" y="58" width="3" height="1" fill="#6e1e9c"/><rect x="2" y="58" width="2" height="1" fill="#6a169c"/><rect x="4" y="58" width="2" height="1" fill="#6e1e9c"/><rect x="6" y="58" width="2" height="1" fill="#7e2ea4"/><rect x="8" y="58" width="1" height="1" fill="#7828a2"/><rect x="9" y="58" width="1" height="1" fill="#8838a6"/><rect x="10" y="58" width="1" height="1" fill="#b95f9c"/><rect x="11" y="58" width="1" height="1" fill="#c44a78"/><rect x="12" y="58" width="1" height="1" fill="#c03c64"/><rect x="13" y="58" width="1" height="1" fill="#c02c5a"/><rect x="14" y="58" width="1" height="1" fill="#be2252"/><rect x="-1" y="59" width="4" height="1" fill="#6e1e9c"/><rect x="3" y="59" width="2" height="1" fill="#6a169c"/><rect x="5" y="59" width="1" height="1" fill="#7222a0"/><rect x="6" y="59" width="2" height="1" fill="#7e2ea4"/><rect x="8" y="59" width="1" height="1" fill="#7828a2"/><rect x="9" y="59" width="1" height="1" fill="#8838a6"/><rect x="10" y="59" width="1" height="1" fill="#b95f9c"/><rect x="11" y="59" width="1" height="1" fill="#c44a78"/><rect x="12" y="59" width="1" height="1" fill="#c03c64"/><rect x="13" y="59" width="1" height="1" fill="#c02c5a"/><rect x="14" y="59" width="1" height="1" fill="#be2252"/><rect x="-1" y="60" width="6" height="1" fill="#7222a0"/><rect x="5" y="60" width="4" height="1" fill="#7828a2"/><rect x="9" y="60" width="1" height="1" fill="#9a48a2"/><rect x="10" y="60" width="1" height="1" fill="#b95f9c"/><rect x="11" y="60" width="1" height="1" fill="#c44a78"/><rect x="12" y="60" width="1" height="1" fill="#c03c64"/><rect x="13" y="60" width="1" height="1" fill="#c02c5a"/><rect x="14" y="60" width="1" height="1" fill="#be2252"/><rect x="-1" y="61" width="5" height="1" fill="#7222a0"/><rect x="4" y="61" width="5" height="1" fill="#7828a2"/><rect x="9" y="61" width="1" height="1" fill="#9a48a2"/><rect x="10" y="61" width="1" height="1" fill="#b95f9c"/><rect x="11" y="61" width="1" height="1" fill="#c44a78"/><rect x="12" y="61" width="1" height="1" fill="#c03c64"/><rect x="13" y="61" width="1" height="1" fill="#c02c5a"/><rect x="14" y="61" width="1" height="1" fill="#be2252"/><rect x="-1" y="62" width="6" height="1" fill="#6e1e9c"/><rect x="5" y="62" width="3" height="1" fill="#7222a0"/><rect x="8" y="62" width="1" height="1" fill="#7828a2"/><rect x="9" y="62" width="1" height="1" fill="#9a48a2"/><rect x="10" y="62" width="1" height="1" fill="#b95f9c"/><rect x="11" y="62" width="1" height="1" fill="#c44a78"/><rect x="12" y="62" width="1" height="1" fill="#c03c64"/><rect x="13" y="62" width="1" height="1" fill="#c02c5a"/><rect x="14" y="62" width="1" height="1" fill="#be2252"/><rect x="-1" y="63" width="5" height="1" fill="#6e1e9c"/><rect x="4" y="63" width="2" height="1" fill="#7222a0"/><rect x="6" y="63" width="1" height="1" fill="#6e1e9c"/><rect x="7" y="63" width="1" height="1" fill="#7222a0"/><rect x="8" y="63" width="1" height="1" fill="#7828a2"/><rect x="9" y="63" width="1" height="1" fill="#9a48a2"/><rect x="10" y="63" width="1" height="1" fill="#b95f9c"/><rect x="11" y="63" width="1" height="1" fill="#c44a78"/><rect x="12" y="63" width="1" height="1" fill="#c03c64"/><rect x="13" y="63" width="1" height="1" fill="#c02c5a"/><rect x="14" y="63" width="1" height="1" fill="#be2252"/><rect x="-1" y="64" width="3" height="1" fill="#7222a0"/><rect x="2" y="64" width="3" height="1" fill="#6e1e9c"/><rect x="5" y="64" width="2" height="1" fill="#7222a0"/><rect x="7" y="64" width="2" height="1" fill="#7828a2"/><rect x="9" y="64" width="1" height="1" fill="#9a48a2"/><rect x="10" y="64" width="1" height="1" fill="#b95f9c"/><rect x="11" y="64" width="1" height="1" fill="#c44a78"/><rect x="12" y="64" width="1" height="1" fill="#c03c64"/><rect x="13" y="64" width="1" height="1" fill="#c02c5a"/><rect x="14" y="64" width="1" height="1" fill="#be2252"/><rect x="-1" y="65" width="2" height="1" fill="#7222a0"/><rect x="1" y="65" width="1" height="1" fill="#7828a2"/><rect x="2" y="65" width="3" height="1" fill="#6e1e9c"/><rect x="5" y="65" width="2" height="1" fill="#7222a0"/><rect x="7" y="65" width="2" height="1" fill="#7828a2"/><rect x="9" y="65" width="1" height="1" fill="#9a48a2"/><rect x="10" y="65" width="1" height="1" fill="#b95f9c"/><rect x="11" y="65" width="1" height="1" fill="#c44a78"/><rect x="12" y="65" width="1" height="1" fill="#c03c64"/><rect x="13" y="65" width="1" height="1" fill="#c02c5a"/><rect x="14" y="65" width="1" height="1" fill="#be2252"/><rect x="-1" y="66" width="2" height="1" fill="#7222a0"/><rect x="1" y="66" width="1" height="1" fill="#7828a2"/><rect x="2" y="66" width="3" height="1" fill="#6e1e9c"/><rect x="5" y="66" width="2" height="1" fill="#7222a0"/><rect x="7" y="66" width="2" height="1" fill="#7828a2"/><rect x="9" y="66" width="1" height="1" fill="#9a48a2"/><rect x="10" y="66" width="1" height="1" fill="#b95f9c"/><rect x="11" y="66" width="1" height="1" fill="#c44a78"/><rect x="12" y="66" width="1" height="1" fill="#c03c64"/><rect x="13" y="66" width="1" height="1" fill="#c02c5a"/><rect x="14" y="66" width="1" height="1" fill="#be2252"/></svg><div style="position:absolute;left:0;top:0;right:0;bottom:0;box-shadow:inset 0 0 0 1px rgba(0,0,0,0.18)"></div></div>
<svg style="position:absolute;left:0;top:0" width="2187" height="1283" fill="#0a0a1a"><circle cx="291.3" cy="62.5" r="1.85"/><circle cx="292.5" cy="81.5" r="1.85"/><circle cx="294.3" cy="99.5" r="1.85"/><circle cx="296.3" cy="117.3" r="1.85"/><circle cx="297.3" cy="136.3" r="1.85"/><circle cx="297.3" cy="154.3" r="1.85"/><circle cx="295.3" cy="173.5" r="1.85"/><circle cx="293.3" cy="191.4" r="1.85"/><circle cx="293.3" cy="209.2" r="1.85"/><circle cx="291.3" cy="228.2" r="1.85"/><circle cx="288.2" cy="246.2" r="1.85"/><circle cx="286.4" cy="265.5" r="1.85"/><circle cx="286.4" cy="283.5" r="1.85"/><circle cx="285.4" cy="302.3" r="1.85"/><circle cx="283.4" cy="320.3" r="1.85"/><circle cx="282.4" cy="338.3" r="1.85"/><circle cx="282.4" cy="346.4" r="1.85"/><circle cx="281.4" cy="357.3" r="1.85"/><circle cx="279.3" cy="375.4" r="1.85"/><circle cx="276.4" cy="394.3" r="1.85"/><circle cx="274.2" cy="412.3" r="1.85"/><circle cx="272.3" cy="430.2" r="1.85"/><circle cx="271.3" cy="449.2" r="1.85"/><circle cx="271.3" cy="467.4" r="1.85"/><circle cx="270.3" cy="486.4" r="1.85"/><circle cx="268.3" cy="504.3" r="1.85"/><circle cx="266.3" cy="522.3" r="1.85"/><circle cx="264.3" cy="534.4" r="1.85"/><circle cx="263.2" cy="541.3" r="1.85"/><circle cx="261.3" cy="559.3" r="1.85"/><circle cx="260.3" cy="578.3" r="1.85"/><circle cx="259.2" cy="596.3" r="1.85"/><circle cx="256.2" cy="614.3" r="1.85"/><circle cx="254.2" cy="633.3" r="1.85"/><circle cx="250.2" cy="651.3" r="1.85"/><circle cx="246.2" cy="670.3" r="1.85"/><circle cx="245.2" cy="676.4" r="1.85"/><circle cx="244.4" cy="688.3" r="1.85"/><circle cx="243.5" cy="707.3" r="1.85"/><circle cx="244.4" cy="725.4" r="1.85"/><circle cx="243.5" cy="743.2" r="1.85"/><circle cx="243.5" cy="762.2" r="1.85"/><circle cx="240.5" cy="780.3" r="1.85"/><circle cx="236.4" cy="799.3" r="1.85"/><circle cx="234.4" cy="817.4" r="1.85"/><circle cx="235.4" cy="835.4" r="1.85"/><circle cx="235.4" cy="854.2" r="1.85"/><circle cx="236.4" cy="872.3" r="1.85"/><circle cx="236.4" cy="891.3" r="1.85"/><circle cx="236.4" cy="909.4" r="1.85"/><circle cx="235.4" cy="927.4" r="1.85"/><circle cx="235.4" cy="946.4" r="1.85"/><circle cx="234.4" cy="964.3" r="1.85"/><circle cx="229.3" cy="983.3" r="1.85"/><circle cx="227.5" cy="994.2" r="1.85"/><circle cx="225.4" cy="1001.4" r="1.85"/><circle cx="223.4" cy="1019.5" r="1.85"/><circle cx="221.3" cy="1038.3" r="1.85"/><circle cx="219.3" cy="1056.4" r="1.85"/><circle cx="217.4" cy="1075.4" r="1.85"/><circle cx="217.4" cy="1093.3" r="1.85"/><circle cx="217.4" cy="1112.3" r="1.85"/><circle cx="218.2" cy="1130.4" r="1.85"/><circle cx="217.4" cy="1148.3" r="1.85"/><circle cx="215.2" cy="1167.3" r="1.85"/><circle cx="212.4" cy="1185.5" r="1.85"/><circle cx="208.3" cy="1203.6" r="1.85"/><circle cx="208.3" cy="1206.8" r="1.85"/><circle cx="209.4" cy="1222.4" r="1.85"/><circle cx="215.2" cy="1240.3" r="1.85"/><circle cx="217.4" cy="1259.3" r="1.85"/><circle cx="1149.3" cy="62.5" r="1.85"/><circle cx="1150.5" cy="81.5" r="1.85"/><circle cx="1152.3" cy="99.5" r="1.85"/><circle cx="1154.3" cy="117.3" r="1.85"/><circle cx="1155.3" cy="136.3" r="1.85"/><circle cx="1155.3" cy="154.3" r="1.85"/><circle cx="1153.3" cy="173.5" r="1.85"/><circle cx="1151.3" cy="191.4" r="1.85"/><circle cx="1151.3" cy="209.2" r="1.85"/><circle cx="1149.3" cy="228.2" r="1.85"/><circle cx="1146.2" cy="246.2" r="1.85"/><circle cx="1144.4" cy="265.5" r="1.85"/><circle cx="1144.4" cy="283.5" r="1.85"/><circle cx="1143.4" cy="302.3" r="1.85"/><circle cx="1141.4" cy="320.3" r="1.85"/><circle cx="1140.4" cy="338.3" r="1.85"/><circle cx="1140.4" cy="346.4" r="1.85"/><circle cx="1139.4" cy="357.3" r="1.85"/><circle cx="1137.3" cy="375.4" r="1.85"/><circle cx="1134.4" cy="394.3" r="1.85"/><circle cx="1132.2" cy="412.3" r="1.85"/><circle cx="1130.3" cy="430.2" r="1.85"/><circle cx="1129.3" cy="449.2" r="1.85"/><circle cx="1129.3" cy="467.4" r="1.85"/><circle cx="1128.3" cy="486.4" r="1.85"/><circle cx="1126.3" cy="504.3" r="1.85"/><circle cx="1124.3" cy="522.3" r="1.85"/><circle cx="1122.3" cy="534.4" r="1.85"/><circle cx="1121.2" cy="541.3" r="1.85"/><circle cx="1119.3" cy="559.3" r="1.85"/><circle cx="1118.3" cy="578.3" r="1.85"/><circle cx="1117.2" cy="596.3" r="1.85"/><circle cx="1114.2" cy="614.3" r="1.85"/><circle cx="1112.2" cy="633.3" r="1.85"/><circle cx="1108.2" cy="651.3" r="1.85"/><circle cx="1104.2" cy="670.3" r="1.85"/><circle cx="1103.2" cy="676.4" r="1.85"/><circle cx="1102.4" cy="688.3" r="1.85"/><circle cx="1101.5" cy="707.3" r="1.85"/><circle cx="1102.4" cy="725.4" r="1.85"/><circle cx="1101.5" cy="743.2" r="1.85"/><circle cx="1101.5" cy="762.2" r="1.85"/><circle cx="1098.5" cy="780.3" r="1.85"/><circle cx="1094.4" cy="799.3" r="1.85"/><circle cx="1092.4" cy="817.4" r="1.85"/><circle cx="1093.4" cy="835.4" r="1.85"/><circle cx="1093.4" cy="854.2" r="1.85"/><circle cx="1094.4" cy="872.3" r="1.85"/><circle cx="1094.4" cy="891.3" r="1.85"/><circle cx="1094.4" cy="909.4" r="1.85"/><circle cx="1093.4" cy="927.4" r="1.85"/><circle cx="1093.4" cy="946.4" r="1.85"/><circle cx="1092.4" cy="964.3" r="1.85"/><circle cx="1087.3" cy="983.3" r="1.85"/><circle cx="1085.5" cy="994.2" r="1.85"/><circle cx="1083.4" cy="1001.4" r="1.85"/><circle cx="1081.4" cy="1019.5" r="1.85"/><circle cx="1079.3" cy="1038.3" r="1.85"/><circle cx="1077.3" cy="1056.4" r="1.85"/><circle cx="1075.4" cy="1075.4" r="1.85"/><circle cx="1075.4" cy="1093.3" r="1.85"/><circle cx="1075.4" cy="1112.3" r="1.85"/><circle cx="1076.2" cy="1130.4" r="1.85"/><circle cx="1075.4" cy="1148.3" r="1.85"/><circle cx="1073.2" cy="1167.3" r="1.85"/><circle cx="1070.4" cy="1185.5" r="1.85"/><circle cx="1066.3" cy="1203.6" r="1.85"/><circle cx="1066.3" cy="1206.8" r="1.85"/><circle cx="1067.4" cy="1222.4" r="1.85"/><circle cx="1073.2" cy="1240.3" r="1.85"/><circle cx="1075.4" cy="1259.3" r="1.85"/><circle cx="2006.3" cy="62.5" r="1.85"/><circle cx="2007.5" cy="81.5" r="1.85"/><circle cx="2009.3" cy="99.5" r="1.85"/><circle cx="2011.3" cy="117.3" r="1.85"/><circle cx="2012.3" cy="136.3" r="1.85"/><circle cx="2012.3" cy="154.3" r="1.85"/><circle cx="2010.3" cy="173.5" r="1.85"/><circle cx="2008.3" cy="191.4" r="1.85"/><circle cx="2008.3" cy="209.2" r="1.85"/><circle cx="2006.3" cy="228.2" r="1.85"/><circle cx="2003.2" cy="246.2" r="1.85"/><circle cx="2001.4" cy="265.5" r="1.85"/><circle cx="2001.4" cy="283.5" r="1.85"/><circle cx="2000.4" cy="302.3" r="1.85"/><circle cx="1998.4" cy="320.3" r="1.85"/><circle cx="1997.4" cy="338.3" r="1.85"/><circle cx="1997.4" cy="346.4" r="1.85"/><circle cx="1996.4" cy="357.3" r="1.85"/><circle cx="1994.3" cy="375.4" r="1.85"/><circle cx="1991.4" cy="394.3" r="1.85"/><circle cx="1989.2" cy="412.3" r="1.85"/><circle cx="1987.3" cy="430.2" r="1.85"/><circle cx="1986.3" cy="449.2" r="1.85"/><circle cx="1986.3" cy="467.4" r="1.85"/><circle cx="1985.3" cy="486.4" r="1.85"/><circle cx="1983.3" cy="504.3" r="1.85"/><circle cx="1981.3" cy="522.3" r="1.85"/><circle cx="1979.3" cy="534.4" r="1.85"/><circle cx="1978.2" cy="541.3" r="1.85"/><circle cx="1976.3" cy="559.3" r="1.85"/><circle cx="1975.3" cy="578.3" r="1.85"/><circle cx="1974.2" cy="596.3" r="1.85"/><circle cx="1971.2" cy="614.3" r="1.85"/><circle cx="1969.2" cy="633.3" r="1.85"/><circle cx="1965.2" cy="651.3" r="1.85"/><circle cx="1961.2" cy="670.3" r="1.85"/><circle cx="1960.2" cy="676.4" r="1.85"/><circle cx="1959.4" cy="688.3" r="1.85"/><circle cx="1958.5" cy="707.3" r="1.85"/><circle cx="1959.4" cy="725.4" r="1.85"/><circle cx="1958.5" cy="743.2" r="1.85"/><circle cx="1958.5" cy="762.2" r="1.85"/><circle cx="1955.5" cy="780.3" r="1.85"/><circle cx="1951.4" cy="799.3" r="1.85"/><circle cx="1949.4" cy="817.4" r="1.85"/><circle cx="1950.4" cy="835.4" r="1.85"/><circle cx="1950.4" cy="854.2" r="1.85"/><circle cx="1951.4" cy="872.3" r="1.85"/><circle cx="1951.4" cy="891.3" r="1.85"/><circle cx="1951.4" cy="909.4" r="1.85"/><circle cx="1950.4" cy="927.4" r="1.85"/><circle cx="1950.4" cy="946.4" r="1.85"/><circle cx="1949.4" cy="964.3" r="1.85"/><circle cx="1944.3" cy="983.3" r="1.85"/><circle cx="1942.5" cy="994.2" r="1.85"/><circle cx="1940.4" cy="1001.4" r="1.85"/><circle cx="1938.4" cy="1019.5" r="1.85"/><circle cx="1936.3" cy="1038.3" r="1.85"/><circle cx="1934.3" cy="1056.4" r="1.85"/><circle cx="1932.4" cy="1075.4" r="1.85"/><circle cx="1932.4" cy="1093.3" r="1.85"/><circle cx="1932.4" cy="1112.3" r="1.85"/><circle cx="1933.2" cy="1130.4" r="1.85"/><circle cx="1932.4" cy="1148.3" r="1.85"/><circle cx="1930.2" cy="1167.3" r="1.85"/><circle cx="1927.4" cy="1185.5" r="1.85"/><circle cx="1923.3" cy="1203.6" r="1.85"/><circle cx="1923.3" cy="1206.8" r="1.85"/><circle cx="1924.4" cy="1222.4" r="1.85"/><circle cx="1930.2" cy="1240.3" r="1.85"/><circle cx="1932.4" cy="1259.3" r="1.85"/></svg>
<div class="t" id="t1" style="left:160.5px;top:9.7px;font-size:37px;transform:scaleX(1.092);transform-origin:0 0">sar0619</div>
<div class="t" id="t2" style="left:897px;top:9.7px;font-size:37px;transform:scaleX(1.125);transform-origin:0 0">1986-09-17-09-26-37</div>
<div class="t" id="t3" style="left:1930px;top:9.7px;font-size:37px;transform:scaleX(0.98);transform-origin:0 0">L5</div>
<div style="position:absolute;left:1325px;top:671px;width:346px;height:158px;border:1px solid #cccccc;border-radius:4px;background:#fff;box-sizing:border-box"></div>
<div style="position:absolute;left:1332px;top:680px;width:44px;height:16px;background:#fd8b3c"></div>
<div style="position:absolute;left:1332px;top:710px;width:44px;height:16.5px;background:#c6fdfd"></div>
<div style="position:absolute;left:1332px;top:741px;width:44px;height:16px;background:#0a50fc"></div>
<div style="position:absolute;left:1332px;top:777.7px;width:45px;height:3.3px;background:#000"></div>
<div style="position:absolute;left:1332px;top:801px;width:44px;height:16.7px;background:#9c2d31;border:1.3px solid #85151f;box-sizing:border-box"></div>
<div class="lg" id="l1" style="left:1392px;top:679px;font-size:21.5px;transform:scaleX(1.067);transform-origin:0 0">sand</div>
<div class="lg" id="l2" style="left:1392px;top:709px;font-size:21.5px;transform:scaleX(1.12);transform-origin:0 0">whitewater</div>
<div class="lg" id="l3" style="left:1392px;top:740px;font-size:21.5px;transform:scaleX(1.12);transform-origin:0 0">water</div>
<div class="lg" id="l4" style="left:1392px;top:770px;font-size:21.5px;transform:scaleX(1.092);transform-origin:0 0">shoreline</div>
<div class="lg" id="l5" style="left:1391px;top:800px;font-size:21.5px;transform:scaleX(1.115);transform-origin:0 0">reference shoreline buffer</div>
</body></html>
